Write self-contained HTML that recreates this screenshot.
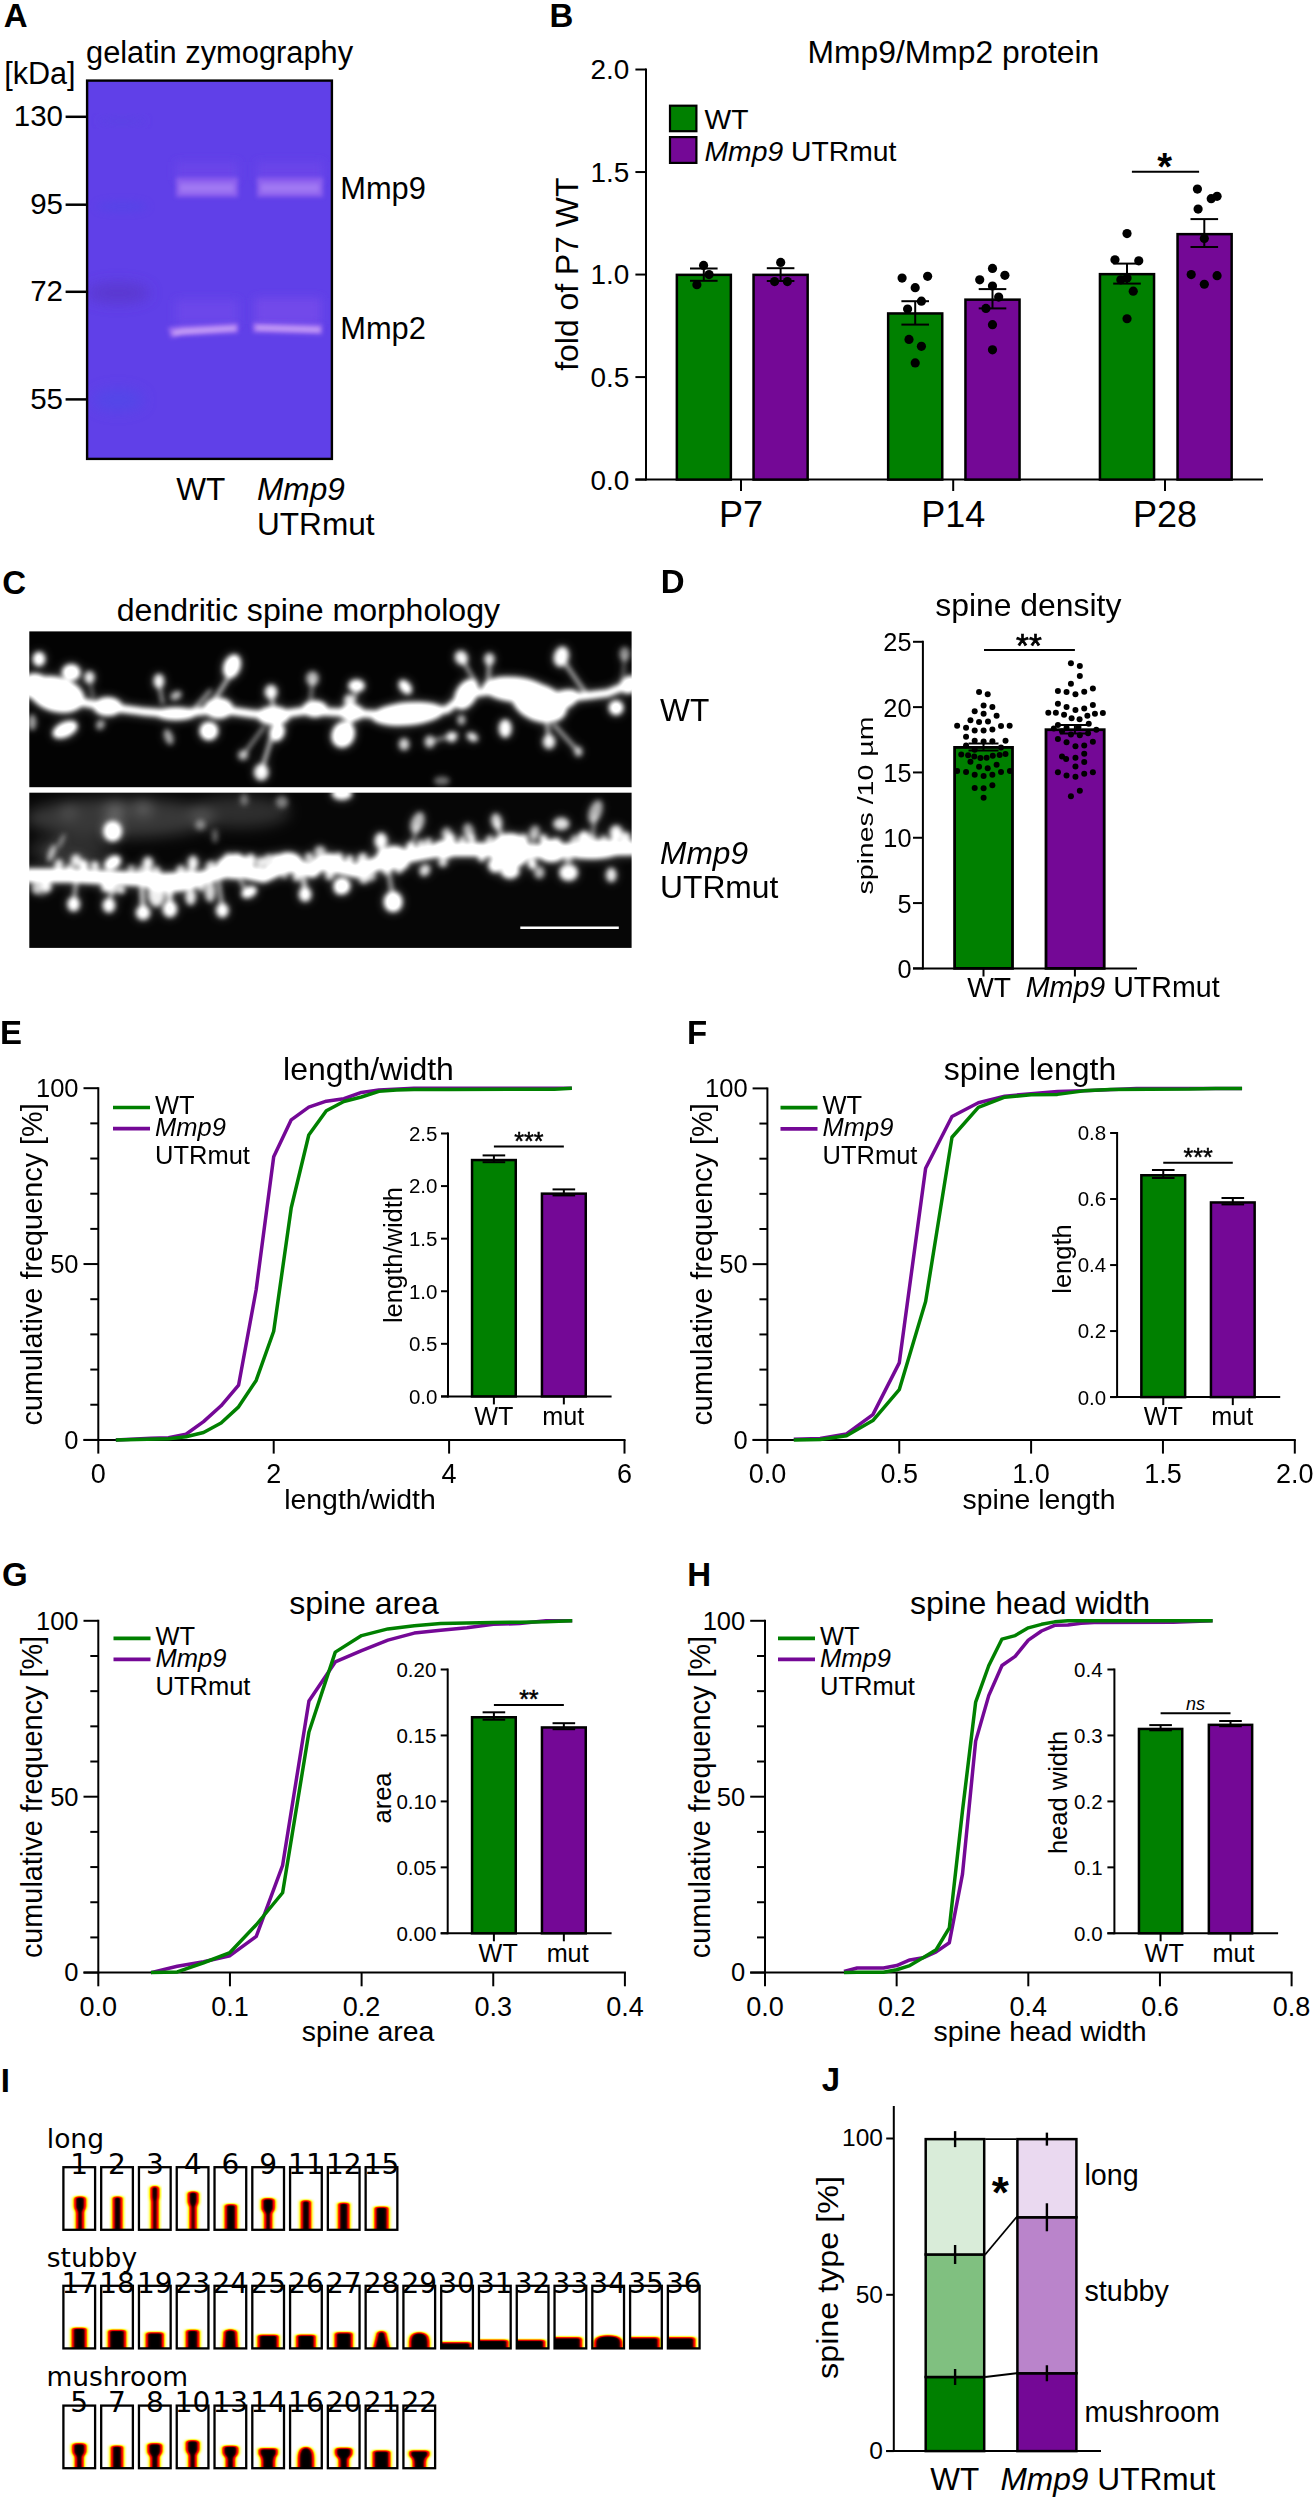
<!DOCTYPE html>
<html><head><meta charset="utf-8"><title>Figure</title>
<style>
html,body{margin:0;padding:0;background:#fff;}
svg{display:block;}
svg text{font-family:"Liberation Sans",sans-serif;fill:#000;}
</style></head><body>
<svg width="1313" height="2500" viewBox="0 0 1313 2500">
<defs>
<filter id="b2" x="-20%" y="-50%" width="140%" height="200%"><feGaussianBlur stdDeviation="2.2"/></filter>
<filter id="b4" x="-30%" y="-80%" width="160%" height="260%"><feGaussianBlur stdDeviation="4.5"/></filter>
<filter id="b7" x="-30%" y="-80%" width="160%" height="260%"><feGaussianBlur stdDeviation="7"/></filter>
<clipPath id="gelclip"><rect x="87" y="80.5" width="245" height="378.5"/></clipPath>
<filter id="mb" x="-5%" y="-20%" width="110%" height="140%" color-interpolation-filters="sRGB"><feGaussianBlur stdDeviation="2.5"/><feComponentTransfer><feFuncA type="linear" slope="1.15" intercept="0"/></feComponentTransfer></filter>
<filter id="mb2" x="-20%" y="-50%" width="140%" height="200%"><feGaussianBlur stdDeviation="7"/></filter>
<filter id="mbw" x="-5%" y="-30%" width="110%" height="160%"><feGaussianBlur stdDeviation="5.5"/></filter>
<clipPath id="c1"><rect x="29.3" y="631.4" width="602.3" height="155.8"/></clipPath>
<clipPath id="c2"><rect x="29.3" y="792.7" width="602.3" height="155.2"/></clipPath>
<filter id="hot" x="-40%" y="-40%" width="180%" height="180%" color-interpolation-filters="sRGB"><feGaussianBlur in="SourceAlpha" stdDeviation="2.3 0.9"/><feColorMatrix type="matrix" values="0 0 0 1 0  0 0 0 1 0  0 0 0 1 0  0 0 0 0 1"/><feComponentTransfer><feFuncR type="table" tableValues="1 1 1 1 1 0.95 0.55 0.15 0"/><feFuncG type="table" tableValues="1 1 0.95 0.45 0.1 0 0 0 0"/><feFuncB type="table" tableValues="1 0.55 0.05 0 0 0 0 0 0"/></feComponentTransfer></filter>
<clipPath id="sc1"><rect x="63.4" y="2167.2" width="31.7" height="62.6"/></clipPath>
<clipPath id="sc2"><rect x="101.18" y="2167.2" width="31.7" height="62.6"/></clipPath>
<clipPath id="sc3"><rect x="138.96" y="2167.2" width="31.7" height="62.6"/></clipPath>
<clipPath id="sc4"><rect x="176.74" y="2167.2" width="31.7" height="62.6"/></clipPath>
<clipPath id="sc6"><rect x="214.52" y="2167.2" width="31.7" height="62.6"/></clipPath>
<clipPath id="sc9"><rect x="252.3" y="2167.2" width="31.7" height="62.6"/></clipPath>
<clipPath id="sc11"><rect x="290.08" y="2167.2" width="31.7" height="62.6"/></clipPath>
<clipPath id="sc12"><rect x="327.86" y="2167.2" width="31.7" height="62.6"/></clipPath>
<clipPath id="sc15"><rect x="365.64" y="2167.2" width="31.7" height="62.6"/></clipPath>
<clipPath id="sc17"><rect x="63.4" y="2285.8" width="31.7" height="62.6"/></clipPath>
<clipPath id="sc18"><rect x="101.18" y="2285.8" width="31.7" height="62.6"/></clipPath>
<clipPath id="sc19"><rect x="138.96" y="2285.8" width="31.7" height="62.6"/></clipPath>
<clipPath id="sc23"><rect x="176.74" y="2285.8" width="31.7" height="62.6"/></clipPath>
<clipPath id="sc24"><rect x="214.52" y="2285.8" width="31.7" height="62.6"/></clipPath>
<clipPath id="sc25"><rect x="252.3" y="2285.8" width="31.7" height="62.6"/></clipPath>
<clipPath id="sc26"><rect x="290.08" y="2285.8" width="31.7" height="62.6"/></clipPath>
<clipPath id="sc27"><rect x="327.86" y="2285.8" width="31.7" height="62.6"/></clipPath>
<clipPath id="sc28"><rect x="365.64" y="2285.8" width="31.7" height="62.6"/></clipPath>
<clipPath id="sc29"><rect x="403.42" y="2285.8" width="31.7" height="62.6"/></clipPath>
<clipPath id="sc30"><rect x="441.2" y="2285.8" width="31.7" height="62.6"/></clipPath>
<clipPath id="sc31"><rect x="478.98" y="2285.8" width="31.7" height="62.6"/></clipPath>
<clipPath id="sc32"><rect x="516.76" y="2285.8" width="31.7" height="62.6"/></clipPath>
<clipPath id="sc33"><rect x="554.54" y="2285.8" width="31.7" height="62.6"/></clipPath>
<clipPath id="sc34"><rect x="592.32" y="2285.8" width="31.7" height="62.6"/></clipPath>
<clipPath id="sc35"><rect x="630.1" y="2285.8" width="31.7" height="62.6"/></clipPath>
<clipPath id="sc36"><rect x="667.88" y="2285.8" width="31.7" height="62.6"/></clipPath>
<clipPath id="sc5"><rect x="63.4" y="2405.6" width="31.7" height="62.6"/></clipPath>
<clipPath id="sc7"><rect x="101.18" y="2405.6" width="31.7" height="62.6"/></clipPath>
<clipPath id="sc8"><rect x="138.96" y="2405.6" width="31.7" height="62.6"/></clipPath>
<clipPath id="sc10"><rect x="176.74" y="2405.6" width="31.7" height="62.6"/></clipPath>
<clipPath id="sc13"><rect x="214.52" y="2405.6" width="31.7" height="62.6"/></clipPath>
<clipPath id="sc14"><rect x="252.3" y="2405.6" width="31.7" height="62.6"/></clipPath>
<clipPath id="sc16"><rect x="290.08" y="2405.6" width="31.7" height="62.6"/></clipPath>
<clipPath id="sc20"><rect x="327.86" y="2405.6" width="31.7" height="62.6"/></clipPath>
<clipPath id="sc21"><rect x="365.64" y="2405.6" width="31.7" height="62.6"/></clipPath>
<clipPath id="sc22"><rect x="403.42" y="2405.6" width="31.7" height="62.6"/></clipPath>
</defs>
<rect x="0" y="0" width="1313" height="2500" fill="#fff"/>
<text x="3.8" y="26.5" font-size="33" font-weight="bold">A</text>
<text x="86" y="62.6" font-size="30.8">gelatin zymography</text>
<text x="4.2" y="83.8" font-size="30.6">[kDa]</text>
<rect x="86.9" y="80.4" width="245.2" height="378.7" fill="#6040e8"/>
<g clip-path="url(#gelclip)">
<ellipse cx="122" cy="206.5" rx="26" ry="5" fill="#4a48e6" opacity="0.45" filter="url(#b4)"/>
<ellipse cx="118" cy="293" rx="32" ry="10" fill="#5a38cc" opacity="0.9" filter="url(#b7)"/>
<ellipse cx="118" cy="400" rx="26" ry="11" fill="#4c4ce8" opacity="0.6" filter="url(#b7)"/>
<ellipse cx="122" cy="121" rx="24" ry="3" fill="#5a42e4" filter="url(#b4)"/>
<rect x="176" y="162" width="62" height="18" fill="#6a45e9" filter="url(#b4)"/>
<rect x="257" y="162" width="66" height="18" fill="#6a45e9" filter="url(#b4)"/>
<rect x="176" y="300" width="62" height="24" fill="#6c46ea" filter="url(#b4)"/>
<rect x="255" y="298" width="66" height="26" fill="#7248ea" filter="url(#b4)"/>
<rect x="176" y="177.5" width="62" height="19.5" fill="#8c5eee" filter="url(#b2)"/>
<rect x="180" y="183.5" width="54" height="9" fill="#a078f3" filter="url(#b2)"/>
<rect x="257" y="177.5" width="66" height="19.5" fill="#8c5eee" filter="url(#b2)"/>
<rect x="261" y="183.5" width="58" height="9" fill="#a078f3" filter="url(#b2)"/>
<g filter="url(#b2)"><path d="M168 327.5 L180 326 L238 323 L238 333 L180 336 L171 338 Z" fill="#9868f0"/></g>
<g filter="url(#b2)"><path d="M172 331.5 L182 329.5 L236 326.5 L236 330 L182 333.5 L174 335 Z" fill="#d0acf8"/></g>
<g filter="url(#b2)"><path d="M253 322.5 L322 324.5 L322 334.5 L253 332.5 Z" fill="#9868f0"/></g>
<g filter="url(#b2)"><path d="M256 326 L320 328 L320 331.5 L256 329.5 Z" fill="#d0acf8"/></g>
</g>
<rect x="87.1" y="80.6" width="244.8" height="378.3" fill="none" stroke="#000" stroke-width="2.4"/>
<text x="63" y="126.4" font-size="29.5" text-anchor="end">130</text>
<line x1="65.6" y1="116.8" x2="86.4" y2="116.8" stroke="#000" stroke-width="2.5"/>
<text x="63" y="214.3" font-size="29.5" text-anchor="end">95</text>
<line x1="65.6" y1="204.7" x2="86.4" y2="204.7" stroke="#000" stroke-width="2.5"/>
<text x="63" y="301.4" font-size="29.5" text-anchor="end">72</text>
<line x1="65.6" y1="291.8" x2="86.4" y2="291.8" stroke="#000" stroke-width="2.5"/>
<text x="63" y="409" font-size="29.5" text-anchor="end">55</text>
<line x1="65.6" y1="399.4" x2="86.4" y2="399.4" stroke="#000" stroke-width="2.5"/>
<text x="340.3" y="199.3" font-size="30.8">Mmp9</text>
<text x="340.3" y="338.6" font-size="30.8">Mmp2</text>
<text x="176.3" y="499.8" font-size="31.6">WT</text>
<text x="257" y="499.8" font-size="31.6" font-style="italic">Mmp9</text>
<text x="257" y="535" font-size="31.6">UTRmut</text>
<text x="549.4" y="26.8" font-size="33" font-weight="bold">B</text>
<text x="953.4" y="62.6" font-size="31.8" text-anchor="middle">Mmp9/Mmp2 protein</text>
<line x1="646" y1="68.5" x2="646" y2="480.6" stroke="#000" stroke-width="2"/>
<line x1="635.4" y1="479.6" x2="1263" y2="479.6" stroke="#000" stroke-width="2"/>
<line x1="635.4" y1="479.6" x2="646" y2="479.6" stroke="#000" stroke-width="2"/>
<text x="629.3" y="489.5" font-size="27.9" text-anchor="end">0.0</text>
<line x1="635.4" y1="377.08" x2="646" y2="377.08" stroke="#000" stroke-width="2"/>
<text x="629.3" y="386.98" font-size="27.9" text-anchor="end">0.5</text>
<line x1="635.4" y1="274.56" x2="646" y2="274.56" stroke="#000" stroke-width="2"/>
<text x="629.3" y="284.46" font-size="27.9" text-anchor="end">1.0</text>
<line x1="635.4" y1="172.04" x2="646" y2="172.04" stroke="#000" stroke-width="2"/>
<text x="629.3" y="181.94" font-size="27.9" text-anchor="end">1.5</text>
<line x1="635.4" y1="69.52" x2="646" y2="69.52" stroke="#000" stroke-width="2"/>
<text x="629.3" y="79.42" font-size="27.9" text-anchor="end">2.0</text>
<line x1="741" y1="479.6" x2="741" y2="491" stroke="#000" stroke-width="2"/>
<text x="741" y="526.8" font-size="36" text-anchor="middle">P7</text>
<line x1="953.2" y1="479.6" x2="953.2" y2="491" stroke="#000" stroke-width="2"/>
<text x="953.2" y="526.8" font-size="36" text-anchor="middle">P14</text>
<line x1="1165" y1="479.6" x2="1165" y2="491" stroke="#000" stroke-width="2"/>
<text x="1165" y="526.8" font-size="36" text-anchor="middle">P28</text>
<text x="578.1" y="274.2" font-size="31.9" text-anchor="middle" transform="rotate(-90 578.1 274.2)">fold of P7 WT</text>
<rect x="670" y="105.7" width="26.4" height="25.5" fill="#008000" stroke="#000" stroke-width="2.2"/>
<rect x="670" y="137.1" width="26.4" height="25.8" fill="#740896" stroke="#000" stroke-width="2.2"/>
<text x="704.5" y="128.6" font-size="28.3">WT</text>
<text x="704.5" y="161.3" font-size="28.3"><tspan font-style="italic">Mmp9</tspan> UTRmut</text>
<rect x="676.85" y="274.85" width="54" height="204.75" fill="#008000" stroke="#000" stroke-width="2.5"/>
<rect x="753.55" y="274.85" width="54.1" height="204.75" fill="#740896" stroke="#000" stroke-width="2.5"/>
<rect x="888.15" y="313.45" width="54.1" height="166.15" fill="#008000" stroke="#000" stroke-width="2.5"/>
<rect x="965.45" y="299.65" width="54.1" height="179.95" fill="#740896" stroke="#000" stroke-width="2.5"/>
<rect x="1099.95" y="274.15" width="54.1" height="205.45" fill="#008000" stroke="#000" stroke-width="2.5"/>
<rect x="1177.55" y="234.15" width="54.1" height="245.45" fill="#740896" stroke="#000" stroke-width="2.5"/>
<line x1="703.8" y1="268.5" x2="703.8" y2="280.8" stroke="#000" stroke-width="2"/>
<line x1="690" y1="268.5" x2="717.6" y2="268.5" stroke="#000" stroke-width="2"/>
<line x1="690" y1="280.8" x2="717.6" y2="280.8" stroke="#000" stroke-width="2"/>
<line x1="780.6" y1="268.2" x2="780.6" y2="281" stroke="#000" stroke-width="2"/>
<line x1="766.8" y1="268.2" x2="794.4" y2="268.2" stroke="#000" stroke-width="2"/>
<line x1="766.8" y1="281" x2="794.4" y2="281" stroke="#000" stroke-width="2"/>
<line x1="915.2" y1="301.2" x2="915.2" y2="324.6" stroke="#000" stroke-width="2"/>
<line x1="901.4" y1="301.2" x2="929" y2="301.2" stroke="#000" stroke-width="2"/>
<line x1="901.4" y1="324.6" x2="929" y2="324.6" stroke="#000" stroke-width="2"/>
<line x1="992.5" y1="289.1" x2="992.5" y2="308.4" stroke="#000" stroke-width="2"/>
<line x1="978.7" y1="289.1" x2="1006.3" y2="289.1" stroke="#000" stroke-width="2"/>
<line x1="978.7" y1="308.4" x2="1006.3" y2="308.4" stroke="#000" stroke-width="2"/>
<line x1="1127" y1="263.6" x2="1127" y2="283.6" stroke="#000" stroke-width="2"/>
<line x1="1113.2" y1="263.6" x2="1140.8" y2="263.6" stroke="#000" stroke-width="2"/>
<line x1="1113.2" y1="283.6" x2="1140.8" y2="283.6" stroke="#000" stroke-width="2"/>
<line x1="1204.3" y1="219.1" x2="1204.3" y2="247" stroke="#000" stroke-width="2"/>
<line x1="1190.5" y1="219.1" x2="1218.1" y2="219.1" stroke="#000" stroke-width="2"/>
<line x1="1190.5" y1="247" x2="1218.1" y2="247" stroke="#000" stroke-width="2"/>
<circle cx="703.59" cy="265.44" r="4.6" fill="#000"/>
<circle cx="709.08" cy="274.58" r="4.6" fill="#000"/>
<circle cx="696.89" cy="284.63" r="4.6" fill="#000"/>
<circle cx="780.67" cy="262.39" r="4.6" fill="#000"/>
<circle cx="774.58" cy="281.58" r="4.6" fill="#000"/>
<circle cx="787.37" cy="281.58" r="4.6" fill="#000"/>
<circle cx="902.09" cy="278.05" r="4.6" fill="#000"/>
<circle cx="927.62" cy="276.33" r="4.6" fill="#000"/>
<circle cx="915.2" cy="287.71" r="4.6" fill="#000"/>
<circle cx="921.41" cy="301.17" r="4.6" fill="#000"/>
<circle cx="907.61" cy="309.1" r="4.6" fill="#000"/>
<circle cx="908.99" cy="339.47" r="4.6" fill="#000"/>
<circle cx="921.41" cy="346.37" r="4.6" fill="#000"/>
<circle cx="915.2" cy="362.93" r="4.6" fill="#000"/>
<circle cx="992.48" cy="268.39" r="4.6" fill="#000"/>
<circle cx="979.72" cy="279.78" r="4.6" fill="#000"/>
<circle cx="1004.9" cy="275.29" r="4.6" fill="#000"/>
<circle cx="992.48" cy="285.99" r="4.6" fill="#000"/>
<circle cx="998.69" cy="297.03" r="4.6" fill="#000"/>
<circle cx="985.93" cy="308.41" r="4.6" fill="#000"/>
<circle cx="992.48" cy="324.63" r="4.6" fill="#000"/>
<circle cx="992.48" cy="349.82" r="4.6" fill="#000"/>
<circle cx="1127.03" cy="233.55" r="4.6" fill="#000"/>
<circle cx="1114.96" cy="259.77" r="4.6" fill="#000"/>
<circle cx="1138.76" cy="260.8" r="4.6" fill="#000"/>
<circle cx="1127.03" cy="278.05" r="4.6" fill="#000"/>
<circle cx="1120.82" cy="279.78" r="4.6" fill="#000"/>
<circle cx="1133.24" cy="291.16" r="4.6" fill="#000"/>
<circle cx="1127.03" cy="318.76" r="4.6" fill="#000"/>
<circle cx="1197.42" cy="189.04" r="4.6" fill="#000"/>
<circle cx="1217.08" cy="196.29" r="4.6" fill="#000"/>
<circle cx="1211.22" cy="198.7" r="4.6" fill="#000"/>
<circle cx="1198.11" cy="209.05" r="4.6" fill="#000"/>
<circle cx="1204.32" cy="238.38" r="4.6" fill="#000"/>
<circle cx="1191.21" cy="274.6" r="4.6" fill="#000"/>
<circle cx="1217.08" cy="275.64" r="4.6" fill="#000"/>
<circle cx="1204.32" cy="284.26" r="4.6" fill="#000"/>
<line x1="1131.9" y1="171.8" x2="1199.1" y2="171.8" stroke="#000" stroke-width="2"/>
<text x="1164.6" y="179.5" font-size="38" text-anchor="middle" font-weight="bold">*</text>
<text x="2.2" y="593.5" font-size="33" font-weight="bold">C</text>
<text x="308.4" y="620.5" font-size="32.1" text-anchor="middle">dendritic spine morphology</text>
<rect x="29.3" y="631.4" width="602.3" height="155.8" fill="#030303"/>
<rect x="29.3" y="792.7" width="602.3" height="155.2" fill="#060606"/>
<g clip-path="url(#c1)"><defs><g id="den1" fill="#fff">
<polyline points="27.31,693.12 59,697.99 107.74,707.01 141.86,711.4 175.98,714.32 205.23,710.67 217.42,708.96 251.54,713.83 273.47,715.54 312.47,709.69 320,711.4 351.68,713.1 393.12,715.54 424.8,710.67 446.74,709.69 466.23,694.34 490.61,690.68 522.29,689.46 539.35,701.65 563.72,697.99 588.1,695.55 607.59,693.12 634.4,682.15" fill="none" stroke="#fff" stroke-width="7" stroke-linecap="round" stroke-linejoin="round"/>
<ellipse cx="56.56" cy="694.34" rx="28" ry="17" transform="rotate(15 56.56 694.34)"/>
<ellipse cx="34.62" cy="685.81" rx="14" ry="12"/>
<ellipse cx="107.74" cy="706.52" rx="14" ry="9"/>
<ellipse cx="175.98" cy="713.83" rx="20" ry="6"/>
<ellipse cx="218.64" cy="708.23" rx="14" ry="10"/>
<ellipse cx="273.47" cy="715.54" rx="16" ry="9"/>
<ellipse cx="314.91" cy="708.96" rx="12" ry="8"/>
<ellipse cx="351.68" cy="712.62" rx="12" ry="8"/>
<ellipse cx="407.74" cy="713.83" rx="36" ry="11" transform="rotate(-5 407.74 713.83)"/>
<ellipse cx="466.23" cy="694.34" rx="10" ry="16" transform="rotate(30 466.23 694.34)"/>
<ellipse cx="514.98" cy="689.46" rx="32" ry="12" transform="rotate(5 514.98 689.46)"/>
<ellipse cx="539.35" cy="702.87" rx="28" ry="18" transform="rotate(20 539.35 702.87)"/>
<ellipse cx="561.29" cy="700.43" rx="18" ry="9" transform="rotate(-20 561.29 700.43)"/>
<ellipse cx="629.53" cy="684.59" rx="10" ry="8" transform="rotate(-30 629.53 684.59)"/>
<ellipse cx="39.01" cy="659" rx="6" ry="7" opacity="0.95"/>
<ellipse cx="71.18" cy="672.4" rx="9" ry="8"/>
<ellipse cx="89.46" cy="677.28" rx="5" ry="6" opacity="0.8"/>
<ellipse cx="65.09" cy="729.68" rx="13" ry="7" transform="rotate(-25 65.09 729.68)"/>
<ellipse cx="100.43" cy="724.8" rx="4" ry="5" transform="rotate(30 100.43 724.8)" opacity="0.55"/>
<ellipse cx="158.92" cy="680.93" rx="5" ry="7" opacity="0.85"/>
<ellipse cx="175.98" cy="695.55" rx="6" ry="4" transform="rotate(-30 175.98 695.55)" opacity="0.6"/>
<ellipse cx="168.67" cy="736.99" rx="4" ry="8" transform="rotate(-20 168.67 736.99)" opacity="0.55"/>
<ellipse cx="232.04" cy="666.31" rx="8" ry="12" transform="rotate(20 232.04 666.31)"/>
<ellipse cx="208.89" cy="730.89" rx="9" ry="9"/>
<ellipse cx="271.04" cy="691.9" rx="6" ry="7" opacity="0.85"/>
<ellipse cx="312.47" cy="678.49" rx="6" ry="7" opacity="0.6"/>
<ellipse cx="243.01" cy="755.27" rx="5" ry="5" opacity="0.55"/>
<ellipse cx="261.29" cy="772.33" rx="7" ry="8" opacity="0.85"/>
<ellipse cx="277.13" cy="732.11" rx="7" ry="9" transform="rotate(20 277.13 732.11)"/>
<ellipse cx="32.19" cy="722.36" rx="4" ry="8" opacity="0.5"/>
<line x1="158.92" y1="683.37" x2="162.58" y2="702.87" stroke="#fff" stroke-width="2.5" stroke-linecap="round" opacity="0.7"/>
<line x1="229.6" y1="676.06" x2="212.54" y2="702.87" stroke="#fff" stroke-width="3" stroke-linecap="round" opacity="0.8"/>
<line x1="271.04" y1="693.12" x2="273.47" y2="710.18" stroke="#fff" stroke-width="3" stroke-linecap="round" opacity="0.8"/>
<line x1="312.47" y1="680.93" x2="310.03" y2="705.3" stroke="#fff" stroke-width="2.5" stroke-linecap="round" opacity="0.55"/>
<line x1="243.01" y1="755.27" x2="263.72" y2="727.24" stroke="#fff" stroke-width="2.5" stroke-linecap="round" opacity="0.6"/>
<line x1="261.29" y1="771.11" x2="274.69" y2="727.24" stroke="#fff" stroke-width="3" stroke-linecap="round" opacity="0.8"/>
<line x1="89.46" y1="678.49" x2="93.12" y2="697.99" stroke="#fff" stroke-width="2" stroke-linecap="round" opacity="0.5"/>
<line x1="195.48" y1="707.74" x2="210.1" y2="690.68" stroke="#fff" stroke-width="3" stroke-linecap="round" opacity="0.6"/>
<ellipse cx="356.56" cy="685.81" rx="8" ry="6" opacity="0.95"/>
<ellipse cx="405.3" cy="687.02" rx="5" ry="8" transform="rotate(-40 405.3 687.02)" opacity="0.95"/>
<ellipse cx="343.15" cy="734.55" rx="11" ry="13" transform="rotate(25 343.15 734.55)"/>
<ellipse cx="404.08" cy="744.3" rx="5" ry="6" opacity="0.7"/>
<ellipse cx="429.68" cy="741.86" rx="5" ry="6" opacity="0.65"/>
<ellipse cx="451.61" cy="736.99" rx="5" ry="5" opacity="0.8"/>
<ellipse cx="472.33" cy="736.99" rx="6" ry="4" transform="rotate(30 472.33 736.99)" opacity="0.8"/>
<ellipse cx="461.36" cy="719.93" rx="4" ry="5" opacity="0.6"/>
<ellipse cx="505.23" cy="728.46" rx="6" ry="9" opacity="0.9"/>
<ellipse cx="461.36" cy="657.78" rx="6" ry="7" transform="rotate(-30 461.36 657.78)" opacity="0.85"/>
<ellipse cx="489.39" cy="659" rx="5" ry="6" opacity="0.75"/>
<ellipse cx="561.29" cy="656.56" rx="7" ry="10" transform="rotate(15 561.29 656.56)" opacity="0.9"/>
<ellipse cx="624.66" cy="654.12" rx="5" ry="7" opacity="0.45"/>
<ellipse cx="616.12" cy="707.74" rx="7" ry="7"/>
<ellipse cx="549.1" cy="741.86" rx="6" ry="7" opacity="0.8"/>
<ellipse cx="578.35" cy="751.61" rx="4" ry="5" opacity="0.55"/>
<ellipse cx="441.86" cy="780.86" rx="8" ry="4" opacity="0.35"/>
<ellipse cx="349.25" cy="700.43" rx="5" ry="6" opacity="0.8"/>
<line x1="462.58" y1="660.21" x2="475.98" y2="683.37" stroke="#fff" stroke-width="2.5" stroke-linecap="round" opacity="0.7"/>
<line x1="489.39" y1="661.43" x2="488.17" y2="685.81" stroke="#fff" stroke-width="3" stroke-linecap="round" opacity="0.7"/>
<line x1="563.72" y1="661.43" x2="585.66" y2="693.12" stroke="#fff" stroke-width="3" stroke-linecap="round" opacity="0.7"/>
<line x1="553.98" y1="724.8" x2="579.57" y2="752.83" stroke="#fff" stroke-width="3" stroke-linecap="round" opacity="0.65"/>
<line x1="549.1" y1="741.86" x2="546.66" y2="717.49" stroke="#fff" stroke-width="3" stroke-linecap="round" opacity="0.7"/>
<line x1="356.56" y1="688.24" x2="351.68" y2="710.18" stroke="#fff" stroke-width="3" stroke-linecap="round" opacity="0.6"/>
<line x1="344.37" y1="729.68" x2="354.12" y2="715.05" stroke="#fff" stroke-width="5" stroke-linecap="round" opacity="0.9"/>
<line x1="429.68" y1="741.86" x2="456.49" y2="734.55" stroke="#fff" stroke-width="3" stroke-linecap="round" opacity="0.5"/>
<line x1="624.66" y1="656.56" x2="622.22" y2="688.24" stroke="#fff" stroke-width="2.5" stroke-linecap="round" opacity="0.4"/>
</g></defs><use href="#den1" filter="url(#mbw)" opacity="0.5"/><use href="#den1" filter="url(#mb)"/></g>
<g clip-path="url(#c2)">
<g filter="url(#mb2)" fill="#fff">
<ellipse cx="120" cy="818" rx="95" ry="20" opacity="0.2"/>
<ellipse cx="240" cy="812" rx="50" ry="16" opacity="0.16"/>
<ellipse cx="70" cy="850" rx="40" ry="14" opacity="0.16"/>
<ellipse cx="115.05" cy="811.68" rx="9" ry="9" opacity="0.3"/>
<ellipse cx="143.08" cy="808.03" rx="8" ry="7" opacity="0.3"/>
<ellipse cx="68.74" cy="811.68" rx="7" ry="7" opacity="0.18"/>
</g>
<defs><g id="den2" fill="#fff">
<polyline points="27.31,875.54 68.74,875.54 117.49,877.98 166.23,880.41 202.79,877.98 232.04,868.96 263.72,875.54 288.1,864.08 312.47,870.67 320,862.87 356.56,870.67 393.12,858.48 441.86,849.46 478.42,849.46 510.1,851.17 551.54,851.17 588.1,848.73 634.4,848.24" fill="none" stroke="#fff" stroke-width="13" stroke-linecap="round" stroke-linejoin="round"/>
<ellipse cx="37.12" cy="887.73" rx="5.17" ry="6.34" transform="rotate(17.75 37.12 887.73)" opacity="0.63"/>
<ellipse cx="46.2" cy="886.32" rx="5.02" ry="5.79" transform="rotate(-20.47 46.2 886.32)" opacity="0.87"/>
<ellipse cx="58.8" cy="864.97" rx="4.11" ry="5.63" transform="rotate(7.5 58.8 864.97)" opacity="0.8"/>
<ellipse cx="69.94" cy="868.29" rx="3.64" ry="3.69" transform="rotate(-1.8 69.94 868.29)" opacity="0.73"/>
<ellipse cx="83.68" cy="865.41" rx="4.35" ry="5.34" transform="rotate(-11.09 83.68 865.41)" opacity="0.95"/>
<ellipse cx="94.92" cy="865.66" rx="3.93" ry="4.49" transform="rotate(-21.49 94.92 865.66)" opacity="0.86"/>
<ellipse cx="106.79" cy="886.69" rx="5.4" ry="5.4" transform="rotate(-14.51 106.79 886.69)" opacity="0.91"/>
<ellipse cx="114.02" cy="887.38" rx="4.5" ry="6.02" transform="rotate(-8.16 114.02 887.38)" opacity="0.67"/>
<ellipse cx="121.3" cy="889.77" rx="3.47" ry="3.65" transform="rotate(-22.01 121.3 889.77)" opacity="0.87"/>
<ellipse cx="131.31" cy="868.94" rx="3.64" ry="3.88" transform="rotate(7.19 131.31 868.94)" opacity="0.6"/>
<ellipse cx="141.81" cy="872.1" rx="5.19" ry="6.73" transform="rotate(24.9 141.81 872.1)" opacity="0.56"/>
<ellipse cx="147.8" cy="872.25" rx="3.54" ry="3.55" transform="rotate(5.52 147.8 872.25)" opacity="0.88"/>
<ellipse cx="156.32" cy="872.43" rx="4.54" ry="5.91" transform="rotate(-6.41 156.32 872.43)" opacity="0.73"/>
<ellipse cx="169.65" cy="892.15" rx="3.51" ry="4.61" transform="rotate(-9.46 169.65 892.15)" opacity="0.64"/>
<ellipse cx="180.98" cy="871.49" rx="4.65" ry="6.24" transform="rotate(-5.59 180.98 871.49)" opacity="0.74"/>
<ellipse cx="190.09" cy="871.32" rx="3.29" ry="3.68" transform="rotate(10.23 190.09 871.32)" opacity="0.65"/>
<ellipse cx="201.06" cy="886.91" rx="3.6" ry="3.73" transform="rotate(-13.58 201.06 886.91)" opacity="0.77"/>
<ellipse cx="211.11" cy="866.37" rx="5.31" ry="5.35" transform="rotate(-11.54 211.11 866.37)" opacity="0.73"/>
<ellipse cx="221.55" cy="864.09" rx="4.42" ry="4.63" transform="rotate(-18.08 221.55 864.09)" opacity="0.73"/>
<ellipse cx="228.54" cy="859.47" rx="5.32" ry="6.28" transform="rotate(-9.41 228.54 859.47)" opacity="0.56"/>
<ellipse cx="238.51" cy="860.56" rx="4.88" ry="7.32" transform="rotate(-21.24 238.51 860.56)" opacity="0.77"/>
<ellipse cx="250.06" cy="861.07" rx="5.3" ry="7.12" transform="rotate(20.04 250.06 861.07)" opacity="0.9"/>
<ellipse cx="260.66" cy="862.62" rx="4.52" ry="5.38" transform="rotate(4.13 260.66 862.62)" opacity="0.79"/>
<ellipse cx="268.55" cy="860.74" rx="5.22" ry="6.24" transform="rotate(11.75 268.55 860.74)" opacity="0.78"/>
<ellipse cx="276.52" cy="859.06" rx="4.38" ry="4.58" transform="rotate(-23.89 276.52 859.06)" opacity="0.93"/>
<ellipse cx="284.16" cy="874.09" rx="3.23" ry="4.32" transform="rotate(-14.87 284.16 874.09)" opacity="0.62"/>
<ellipse cx="297.01" cy="876.58" rx="3.76" ry="4.23" transform="rotate(6.71 297.01 876.58)" opacity="0.87"/>
<ellipse cx="309.25" cy="857.43" rx="4.08" ry="4.73" transform="rotate(-18.19 309.25 857.43)" opacity="0.75"/>
<ellipse cx="320.05" cy="851.8" rx="5.39" ry="5.84" transform="rotate(-2.47 320.05 851.8)" opacity="0.66"/>
<ellipse cx="329.92" cy="874.13" rx="4.4" ry="5.97" transform="rotate(17.1 329.92 874.13)" opacity="0.8"/>
<ellipse cx="338.86" cy="858.07" rx="4.6" ry="5.24" transform="rotate(-7.29 338.86 858.07)" opacity="0.81"/>
<ellipse cx="349.61" cy="859.52" rx="3.64" ry="4.12" transform="rotate(13.96 349.61 859.52)" opacity="0.87"/>
<ellipse cx="362.06" cy="859.36" rx="4.65" ry="6.53" transform="rotate(22.92 362.06 859.36)" opacity="0.82"/>
<ellipse cx="370.65" cy="874.84" rx="4.84" ry="6.14" transform="rotate(-23.19 370.65 874.84)" opacity="0.64"/>
<ellipse cx="382.93" cy="853.06" rx="5.02" ry="5.24" transform="rotate(21.63 382.93 853.06)" opacity="0.84"/>
<ellipse cx="387.11" cy="868" rx="5.24" ry="6.68" transform="rotate(7.63 387.11 868)" opacity="0.75"/>
<ellipse cx="399.82" cy="866.8" rx="4.7" ry="6.39" transform="rotate(15.92 399.82 866.8)" opacity="0.81"/>
<ellipse cx="410.66" cy="846.48" rx="4.1" ry="4.73" transform="rotate(23.84 410.66 846.48)" opacity="0.92"/>
<ellipse cx="420.64" cy="844.25" rx="3.39" ry="4.32" transform="rotate(13.41 420.64 844.25)" opacity="0.74"/>
<ellipse cx="428.18" cy="842.44" rx="3.28" ry="4.41" transform="rotate(20.8 428.18 842.44)" opacity="0.74"/>
<ellipse cx="442.84" cy="862.29" rx="4.33" ry="4.52" transform="rotate(-13.93 442.84 862.29)" opacity="0.76"/>
<ellipse cx="450.03" cy="839.32" rx="5.14" ry="5.94" transform="rotate(-5.94 450.03 839.32)" opacity="0.89"/>
<ellipse cx="462.37" cy="840.63" rx="3.52" ry="4.01" transform="rotate(-0.12 462.37 840.63)" opacity="0.71"/>
<ellipse cx="471.76" cy="838.83" rx="3.26" ry="4.11" transform="rotate(-4.97 471.76 838.83)" opacity="0.87"/>
<ellipse cx="481.98" cy="857.12" rx="3.58" ry="4.41" transform="rotate(21.04 481.98 857.12)" opacity="0.87"/>
<ellipse cx="489.41" cy="840.23" rx="3.49" ry="4.92" transform="rotate(20.03 489.41 840.23)" opacity="0.74"/>
<ellipse cx="497.62" cy="841.03" rx="3.27" ry="4.41" transform="rotate(23.86 497.62 841.03)" opacity="0.56"/>
<ellipse cx="505.94" cy="839.85" rx="3.94" ry="5.16" transform="rotate(-19.76 505.94 839.85)" opacity="0.84"/>
<ellipse cx="515.77" cy="862.47" rx="4.81" ry="4.87" transform="rotate(6.65 515.77 862.47)" opacity="0.88"/>
<ellipse cx="523.82" cy="838.98" rx="4.43" ry="4.91" transform="rotate(2.15 523.82 838.98)" opacity="0.78"/>
<ellipse cx="532.03" cy="863.58" rx="3.93" ry="5.74" transform="rotate(-14.09 532.03 863.58)" opacity="0.95"/>
<ellipse cx="543.44" cy="838.83" rx="3.5" ry="4.18" transform="rotate(-3.26 543.44 838.83)" opacity="0.93"/>
<ellipse cx="556.55" cy="842.71" rx="4.64" ry="4.87" transform="rotate(3.5 556.55 842.71)" opacity="0.69"/>
<ellipse cx="568.31" cy="857.81" rx="4.36" ry="5.46" transform="rotate(9.28 568.31 857.81)" opacity="0.63"/>
<ellipse cx="575.15" cy="842.48" rx="4.95" ry="7.19" transform="rotate(-0.94 575.15 842.48)" opacity="0.63"/>
<ellipse cx="584.1" cy="837.07" rx="5.48" ry="5.74" transform="rotate(-21.9 584.1 837.07)" opacity="0.93"/>
<ellipse cx="592.22" cy="839.73" rx="4.27" ry="5.19" transform="rotate(5.05 592.22 839.73)" opacity="0.56"/>
<ellipse cx="604.33" cy="840.48" rx="4.24" ry="5.1" transform="rotate(-15.24 604.33 840.48)" opacity="0.62"/>
<ellipse cx="614.81" cy="839.52" rx="3.4" ry="4.88" transform="rotate(20.44 614.81 839.52)" opacity="0.93"/>
<ellipse cx="625.08" cy="838.33" rx="5.46" ry="6.17" transform="rotate(20.56 625.08 838.33)" opacity="0.85"/>
<ellipse cx="234.48" cy="866.52" rx="16" ry="12"/>
<ellipse cx="288.1" cy="862.87" rx="14" ry="10"/>
<ellipse cx="171.11" cy="882.36" rx="30" ry="9"/>
<ellipse cx="329.75" cy="862.87" rx="12" ry="9"/>
<ellipse cx="390.68" cy="857.99" rx="16" ry="11" transform="rotate(-20 390.68 857.99)"/>
<ellipse cx="444.3" cy="849.46" rx="12" ry="9"/>
<ellipse cx="510.1" cy="850.68" rx="20" ry="17"/>
<ellipse cx="551.54" cy="850.68" rx="14" ry="11"/>
<ellipse cx="595.41" cy="849.46" rx="30" ry="9" transform="rotate(-3 595.41 849.46)"/>
<ellipse cx="112.62" cy="831.18" rx="9" ry="10"/>
<ellipse cx="51.68" cy="853.12" rx="3" ry="9" transform="rotate(20 51.68 853.12)" opacity="0.6"/>
<ellipse cx="76.06" cy="860.43" rx="5" ry="6" opacity="0.8"/>
<ellipse cx="112.62" cy="862.87" rx="9" ry="6" transform="rotate(-35 112.62 862.87)"/>
<ellipse cx="147.96" cy="862.87" rx="5" ry="6" opacity="0.8"/>
<ellipse cx="193.04" cy="862.87" rx="5" ry="7" opacity="0.8"/>
<ellipse cx="73.62" cy="904.3" rx="6" ry="7" opacity="0.9"/>
<ellipse cx="108.96" cy="905.52" rx="6" ry="7" opacity="0.9"/>
<ellipse cx="143.08" cy="912.83" rx="7" ry="7" opacity="0.9"/>
<ellipse cx="169.89" cy="909.17" rx="7" ry="8" opacity="0.9"/>
<ellipse cx="190.61" cy="896.99" rx="5" ry="8" opacity="0.8"/>
<ellipse cx="222.29" cy="910.39" rx="6" ry="7" opacity="0.9"/>
<ellipse cx="249.1" cy="892.11" rx="8" ry="5" transform="rotate(-25 249.1 892.11)" opacity="0.95"/>
<ellipse cx="305.16" cy="894.55" rx="6" ry="7" opacity="0.9"/>
<ellipse cx="340.01" cy="887.24" rx="6" ry="7" opacity="0.9"/>
<ellipse cx="200.36" cy="825.09" rx="5" ry="5" opacity="0.35"/>
<ellipse cx="214.98" cy="836.06" rx="3" ry="7" opacity="0.3"/>
<ellipse cx="244.23" cy="799.5" rx="4" ry="6" opacity="0.3"/>
<ellipse cx="282" cy="801.94" rx="6" ry="6" opacity="0.35"/>
<ellipse cx="41.94" cy="890.89" rx="5" ry="5" opacity="0.25"/>
<ellipse cx="61.43" cy="840.93" rx="2" ry="8" transform="rotate(25 61.43 840.93)" opacity="0.4"/>
<ellipse cx="156.49" cy="894.55" rx="8" ry="12" opacity="0.8"/>
<ellipse cx="210.1" cy="892.11" rx="5" ry="10" opacity="0.7"/>
<line x1="73.62" y1="903.08" x2="76.06" y2="882.36" stroke="#fff" stroke-width="3" stroke-linecap="round" opacity="0.7"/>
<line x1="108.96" y1="904.3" x2="112.62" y2="884.8" stroke="#fff" stroke-width="3" stroke-linecap="round" opacity="0.7"/>
<line x1="143.08" y1="911.61" x2="141.86" y2="884.8" stroke="#fff" stroke-width="4" stroke-linecap="round" opacity="0.8"/>
<line x1="169.89" y1="907.96" x2="168.67" y2="884.8" stroke="#fff" stroke-width="5" stroke-linecap="round" opacity="0.8"/>
<line x1="222.29" y1="909.17" x2="218.64" y2="882.36" stroke="#fff" stroke-width="3" stroke-linecap="round" opacity="0.7"/>
<line x1="305.16" y1="893.33" x2="302.72" y2="872.62" stroke="#fff" stroke-width="4" stroke-linecap="round" opacity="0.8"/>
<line x1="147.96" y1="862.87" x2="149.17" y2="875.05" stroke="#fff" stroke-width="3" stroke-linecap="round" opacity="0.7"/>
<line x1="193.04" y1="862.87" x2="193.04" y2="875.05" stroke="#fff" stroke-width="3" stroke-linecap="round" opacity="0.7"/>
<line x1="246.66" y1="893.33" x2="239.35" y2="877.49" stroke="#fff" stroke-width="3" stroke-linecap="round" opacity="0.6"/>
<ellipse cx="341.94" cy="793.4" rx="10" ry="6" opacity="0.95"/>
<ellipse cx="417.49" cy="822.65" rx="6" ry="11" transform="rotate(20 417.49 822.65)" opacity="0.6"/>
<ellipse cx="380.93" cy="840.93" rx="6" ry="8" opacity="0.9"/>
<ellipse cx="341.94" cy="886.02" rx="8" ry="8"/>
<ellipse cx="363.87" cy="877.49" rx="5" ry="6" opacity="0.8"/>
<ellipse cx="393.12" cy="901.86" rx="9" ry="10"/>
<ellipse cx="424.8" cy="870.18" rx="5" ry="6" transform="rotate(30 424.8 870.18)" opacity="0.75"/>
<ellipse cx="446.74" cy="833.62" rx="5" ry="6" opacity="0.55"/>
<ellipse cx="468.67" cy="831.18" rx="5" ry="8" transform="rotate(-15 468.67 831.18)" opacity="0.55"/>
<ellipse cx="496.7" cy="821.43" rx="5" ry="8" transform="rotate(-15 496.7 821.43)" opacity="0.7"/>
<ellipse cx="534.48" cy="832.4" rx="5" ry="7" transform="rotate(15 534.48 832.4)" opacity="0.55"/>
<ellipse cx="561.29" cy="823.87" rx="8" ry="6" opacity="0.75"/>
<ellipse cx="595.41" cy="811.68" rx="6" ry="12" transform="rotate(20 595.41 811.68)" opacity="0.55"/>
<ellipse cx="616.12" cy="832.4" rx="6" ry="7" opacity="0.85"/>
<ellipse cx="611.25" cy="875.05" rx="5" ry="7" opacity="0.8"/>
<ellipse cx="568.6" cy="872.62" rx="9" ry="8" opacity="0.9"/>
<ellipse cx="539.35" cy="872.62" rx="5" ry="6" opacity="0.6"/>
<ellipse cx="510.1" cy="871.4" rx="9" ry="7" opacity="0.95"/>
<ellipse cx="495.48" cy="865.3" rx="7" ry="7" opacity="0.95"/>
<ellipse cx="402.87" cy="862.87" rx="6" ry="6" opacity="0.9"/>
<line x1="393.12" y1="899.42" x2="388.24" y2="870.18" stroke="#fff" stroke-width="3" stroke-linecap="round" opacity="0.7"/>
<line x1="417.49" y1="826.31" x2="410.18" y2="850.68" stroke="#fff" stroke-width="3" stroke-linecap="round" opacity="0.5"/>
<line x1="496.7" y1="823.87" x2="505.23" y2="845.81" stroke="#fff" stroke-width="4" stroke-linecap="round" opacity="0.7"/>
<line x1="595.41" y1="816.56" x2="590.53" y2="843.37" stroke="#fff" stroke-width="3" stroke-linecap="round" opacity="0.5"/>
<line x1="534.48" y1="833.62" x2="532.04" y2="848.24" stroke="#fff" stroke-width="3" stroke-linecap="round" opacity="0.5"/>
<line x1="468.67" y1="833.62" x2="473.55" y2="848.24" stroke="#fff" stroke-width="3" stroke-linecap="round" opacity="0.5"/>
<line x1="446.74" y1="834.84" x2="446.74" y2="848.24" stroke="#fff" stroke-width="3" stroke-linecap="round" opacity="0.5"/>
<line x1="616.12" y1="833.62" x2="612.47" y2="845.81" stroke="#fff" stroke-width="3" stroke-linecap="round" opacity="0.6"/>
</g></defs><use href="#den2" filter="url(#mbw)" opacity="0.5"/><use href="#den2" filter="url(#mb)"/></g>
<line x1="520.3" y1="927.8" x2="618.8" y2="927.8" stroke="#fff" stroke-width="2.6"/>
<text x="660" y="721.4" font-size="31.7">WT</text>
<text x="660" y="863.7" font-size="31.7" font-style="italic">Mmp9</text>
<text x="660" y="898.2" font-size="31.8">UTRmut</text>
<text x="660.7" y="593" font-size="33" font-weight="bold">D</text>
<text x="1028.3" y="616.2" font-size="31.9" text-anchor="middle">spine density</text>
<line x1="922.9" y1="640.8" x2="922.9" y2="969.4" stroke="#000" stroke-width="2"/>
<line x1="913" y1="968.4" x2="1137" y2="968.4" stroke="#000" stroke-width="2"/>
<line x1="913" y1="968.4" x2="922.9" y2="968.4" stroke="#000" stroke-width="2"/>
<text x="911.5" y="978" font-size="25.3" text-anchor="end">0</text>
<line x1="913" y1="903.08" x2="922.9" y2="903.08" stroke="#000" stroke-width="2"/>
<text x="911.5" y="912.68" font-size="25.3" text-anchor="end">5</text>
<line x1="913" y1="837.76" x2="922.9" y2="837.76" stroke="#000" stroke-width="2"/>
<text x="911.5" y="847.36" font-size="25.3" text-anchor="end">10</text>
<line x1="913" y1="772.44" x2="922.9" y2="772.44" stroke="#000" stroke-width="2"/>
<text x="911.5" y="782.04" font-size="25.3" text-anchor="end">15</text>
<line x1="913" y1="707.12" x2="922.9" y2="707.12" stroke="#000" stroke-width="2"/>
<text x="911.5" y="716.72" font-size="25.3" text-anchor="end">20</text>
<line x1="913" y1="641.8" x2="922.9" y2="641.8" stroke="#000" stroke-width="2"/>
<text x="911.5" y="651.4" font-size="25.3" text-anchor="end">25</text>
<line x1="983.5" y1="968.4" x2="983.5" y2="976.5" stroke="#000" stroke-width="2"/>
<line x1="1074.9" y1="968.4" x2="1074.9" y2="976.5" stroke="#000" stroke-width="2"/>
<text transform="translate(872.5 805.6) rotate(-90) scale(1.267 1)" text-anchor="middle" font-size="22.5">spines /10 µm</text>
<rect x="954.6" y="747.4" width="57.9" height="221" fill="#008000" stroke="#000" stroke-width="2.8"/>
<rect x="1046" y="729.7" width="58.2" height="238.7" fill="#740896" stroke="#000" stroke-width="2.8"/>
<line x1="983.5" y1="743.5" x2="983.5" y2="750.5" stroke="#000" stroke-width="2"/>
<line x1="968.5" y1="743.5" x2="998.5" y2="743.5" stroke="#000" stroke-width="2"/>
<line x1="968.5" y1="750.5" x2="998.5" y2="750.5" stroke="#000" stroke-width="2"/>
<line x1="1074.9" y1="725" x2="1074.9" y2="733.5" stroke="#000" stroke-width="2"/>
<line x1="1059.9" y1="725" x2="1089.9" y2="725" stroke="#000" stroke-width="2"/>
<line x1="1059.9" y1="733.5" x2="1089.9" y2="733.5" stroke="#000" stroke-width="2"/>
<text x="967.2" y="997.3" font-size="28.2">WT</text>
<text x="1025.8" y="997.3" font-size="28.6"><tspan font-style="italic">Mmp9</tspan> UTRmut</text>
<line x1="984" y1="650" x2="1074.9" y2="650" stroke="#000" stroke-width="2"/>
<text x="1028.9" y="656.8" font-size="33" text-anchor="middle" stroke="#000" stroke-width="0.7">**</text>
<circle cx="979.07" cy="692.1" r="3" fill="#000"/>
<circle cx="987.71" cy="694.15" r="3" fill="#000"/>
<circle cx="983.6" cy="705.53" r="3" fill="#000"/>
<circle cx="992.37" cy="706.9" r="3" fill="#000"/>
<circle cx="974.69" cy="711.29" r="3" fill="#000"/>
<circle cx="983.6" cy="713.76" r="3" fill="#000"/>
<circle cx="996.62" cy="715.82" r="3" fill="#000"/>
<circle cx="970.44" cy="720.2" r="3" fill="#000"/>
<circle cx="979.07" cy="721.99" r="3" fill="#000"/>
<circle cx="987.98" cy="721.57" r="3" fill="#000"/>
<circle cx="957.14" cy="725.69" r="3" fill="#000"/>
<circle cx="966.05" cy="727.74" r="3" fill="#000"/>
<circle cx="974.69" cy="730.49" r="3" fill="#000"/>
<circle cx="983.6" cy="730.49" r="3" fill="#000"/>
<circle cx="992.37" cy="729.53" r="3" fill="#000"/>
<circle cx="1001.01" cy="726.1" r="3" fill="#000"/>
<circle cx="1009.65" cy="725.69" r="3" fill="#000"/>
<circle cx="966.05" cy="736.65" r="3" fill="#000"/>
<circle cx="974.69" cy="740.77" r="3" fill="#000"/>
<circle cx="983.6" cy="741.45" r="3" fill="#000"/>
<circle cx="992.37" cy="741.18" r="3" fill="#000"/>
<circle cx="1005.53" cy="740.77" r="3" fill="#000"/>
<circle cx="966.05" cy="745.57" r="3" fill="#000"/>
<circle cx="1001.01" cy="747.62" r="3" fill="#000"/>
<circle cx="974.69" cy="749.68" r="3" fill="#000"/>
<circle cx="961.25" cy="754.48" r="3" fill="#000"/>
<circle cx="968.11" cy="755.16" r="3" fill="#000"/>
<circle cx="974.27" cy="756.53" r="3" fill="#000"/>
<circle cx="980.44" cy="757.91" r="3" fill="#000"/>
<circle cx="986.61" cy="757.63" r="3" fill="#000"/>
<circle cx="992.78" cy="755.85" r="3" fill="#000"/>
<circle cx="999.64" cy="754.89" r="3" fill="#000"/>
<circle cx="1005.53" cy="754.07" r="3" fill="#000"/>
<circle cx="970.44" cy="761.74" r="3" fill="#000"/>
<circle cx="996.62" cy="764.76" r="3" fill="#000"/>
<circle cx="979.07" cy="766.82" r="3" fill="#000"/>
<circle cx="987.71" cy="768.19" r="3" fill="#000"/>
<circle cx="957.14" cy="770.93" r="3" fill="#000"/>
<circle cx="966.05" cy="771.89" r="3" fill="#000"/>
<circle cx="974.69" cy="774.63" r="3" fill="#000"/>
<circle cx="983.6" cy="776" r="3" fill="#000"/>
<circle cx="992.37" cy="774.63" r="3" fill="#000"/>
<circle cx="1001.01" cy="771.89" r="3" fill="#000"/>
<circle cx="1009.92" cy="770.93" r="3" fill="#000"/>
<circle cx="974.69" cy="788.07" r="3" fill="#000"/>
<circle cx="983.6" cy="788.34" r="3" fill="#000"/>
<circle cx="992.37" cy="785.32" r="3" fill="#000"/>
<circle cx="983.6" cy="797.66" r="3" fill="#000"/>
<circle cx="1070.93" cy="663.31" r="3" fill="#000"/>
<circle cx="1079.84" cy="666.05" r="3" fill="#000"/>
<circle cx="1079.84" cy="675.92" r="3" fill="#000"/>
<circle cx="1070.93" cy="683.87" r="3" fill="#000"/>
<circle cx="1057.91" cy="691" r="3" fill="#000"/>
<circle cx="1066.54" cy="692.1" r="3" fill="#000"/>
<circle cx="1075.45" cy="694.15" r="3" fill="#000"/>
<circle cx="1084.23" cy="691.82" r="3" fill="#000"/>
<circle cx="1092.87" cy="688.4" r="3" fill="#000"/>
<circle cx="1057.91" cy="703.75" r="3" fill="#000"/>
<circle cx="1066.54" cy="706.9" r="3" fill="#000"/>
<circle cx="1075.45" cy="709.92" r="3" fill="#000"/>
<circle cx="1084.23" cy="708.55" r="3" fill="#000"/>
<circle cx="1092.87" cy="705.12" r="3" fill="#000"/>
<circle cx="1048.31" cy="712.66" r="3" fill="#000"/>
<circle cx="1055.85" cy="712.66" r="3" fill="#000"/>
<circle cx="1064.07" cy="714.72" r="3" fill="#000"/>
<circle cx="1071.62" cy="718.15" r="3" fill="#000"/>
<circle cx="1079.57" cy="719.24" r="3" fill="#000"/>
<circle cx="1087.38" cy="715.82" r="3" fill="#000"/>
<circle cx="1094.92" cy="713.76" r="3" fill="#000"/>
<circle cx="1102.87" cy="712.94" r="3" fill="#000"/>
<circle cx="1057.91" cy="725" r="3" fill="#000"/>
<circle cx="1088.75" cy="723.63" r="3" fill="#000"/>
<circle cx="1066.54" cy="727.74" r="3" fill="#000"/>
<circle cx="1078.47" cy="727.06" r="3" fill="#000"/>
<circle cx="1053.79" cy="728.43" r="3" fill="#000"/>
<circle cx="1096.29" cy="729.8" r="3" fill="#000"/>
<circle cx="1062.02" cy="731.17" r="3" fill="#000"/>
<circle cx="1070.93" cy="734.6" r="3" fill="#000"/>
<circle cx="1079.84" cy="735.28" r="3" fill="#000"/>
<circle cx="1088.07" cy="733.23" r="3" fill="#000"/>
<circle cx="1057.91" cy="738.99" r="3" fill="#000"/>
<circle cx="1066.54" cy="742.14" r="3" fill="#000"/>
<circle cx="1092.87" cy="741.73" r="3" fill="#000"/>
<circle cx="1075.45" cy="746.25" r="3" fill="#000"/>
<circle cx="1084.23" cy="745.57" r="3" fill="#000"/>
<circle cx="1084.23" cy="753.79" r="3" fill="#000"/>
<circle cx="1075.45" cy="757.63" r="3" fill="#000"/>
<circle cx="1062.02" cy="756.53" r="3" fill="#000"/>
<circle cx="1066.13" cy="759" r="3" fill="#000"/>
<circle cx="1084.23" cy="762.02" r="3" fill="#000"/>
<circle cx="1075.45" cy="766.41" r="3" fill="#000"/>
<circle cx="1057.91" cy="772.3" r="3" fill="#000"/>
<circle cx="1066.54" cy="775.45" r="3" fill="#000"/>
<circle cx="1075.45" cy="776.82" r="3" fill="#000"/>
<circle cx="1084.23" cy="773.67" r="3" fill="#000"/>
<circle cx="1092.87" cy="772.3" r="3" fill="#000"/>
<circle cx="1079.84" cy="790.81" r="3" fill="#000"/>
<circle cx="1070.93" cy="796.29" r="3" fill="#000"/>
<text x="0.1" y="1044.3" font-size="33" font-weight="bold">E</text>
<text x="368.5" y="1080" font-size="32" text-anchor="middle">length/width</text>
<line x1="98.3" y1="1087.2" x2="98.3" y2="1440.9" stroke="#000" stroke-width="2"/>
<line x1="83.5" y1="1439.9" x2="625.5" y2="1439.9" stroke="#000" stroke-width="2"/>
<line x1="83.5" y1="1439.9" x2="98.3" y2="1439.9" stroke="#000" stroke-width="2"/>
<line x1="90.3" y1="1404.73" x2="98.3" y2="1404.73" stroke="#000" stroke-width="2"/>
<line x1="90.3" y1="1369.56" x2="98.3" y2="1369.56" stroke="#000" stroke-width="2"/>
<line x1="90.3" y1="1334.39" x2="98.3" y2="1334.39" stroke="#000" stroke-width="2"/>
<line x1="90.3" y1="1299.22" x2="98.3" y2="1299.22" stroke="#000" stroke-width="2"/>
<line x1="83.5" y1="1264.05" x2="98.3" y2="1264.05" stroke="#000" stroke-width="2"/>
<line x1="90.3" y1="1228.88" x2="98.3" y2="1228.88" stroke="#000" stroke-width="2"/>
<line x1="90.3" y1="1193.71" x2="98.3" y2="1193.71" stroke="#000" stroke-width="2"/>
<line x1="90.3" y1="1158.54" x2="98.3" y2="1158.54" stroke="#000" stroke-width="2"/>
<line x1="90.3" y1="1123.37" x2="98.3" y2="1123.37" stroke="#000" stroke-width="2"/>
<line x1="83.5" y1="1088.2" x2="98.3" y2="1088.2" stroke="#000" stroke-width="2"/>
<text x="78.5" y="1448.7" font-size="25.5" text-anchor="end">0</text>
<text x="78.5" y="1272.85" font-size="25.5" text-anchor="end">50</text>
<text x="78.5" y="1097" font-size="25.5" text-anchor="end">100</text>
<line x1="98.3" y1="1439.9" x2="98.3" y2="1453.6" stroke="#000" stroke-width="2"/>
<text x="98.3" y="1482.9" font-size="27" text-anchor="middle">0</text>
<line x1="273.7" y1="1439.9" x2="273.7" y2="1453.6" stroke="#000" stroke-width="2"/>
<text x="273.7" y="1482.9" font-size="27" text-anchor="middle">2</text>
<line x1="449.1" y1="1439.9" x2="449.1" y2="1453.6" stroke="#000" stroke-width="2"/>
<text x="449.1" y="1482.9" font-size="27" text-anchor="middle">4</text>
<line x1="624.5" y1="1439.9" x2="624.5" y2="1453.6" stroke="#000" stroke-width="2"/>
<text x="624.5" y="1482.9" font-size="27" text-anchor="middle">6</text>
<text x="360" y="1509" font-size="28.4" text-anchor="middle">length/width</text>
<text x="42.2" y="1264.35" font-size="28.85" text-anchor="middle" transform="rotate(-90 42.2 1264.35)">cumulative frequency [%]</text>
<polyline points="115.84,1439.9 150.92,1438.14 168.46,1437.79 186,1434.27 203.54,1421.61 221.08,1405.79 238.62,1385.03 256.16,1289.72 273.7,1156.78 291.24,1119.85 308.78,1107.19 326.32,1101.21 343.86,1098.75 361.4,1092.42 378.94,1089.96 414.02,1088.2 571.88,1088.2" fill="none" stroke="#740896" stroke-width="3.5" stroke-linejoin="round"/>
<polyline points="115.84,1439.9 168.46,1438.84 186,1436.73 203.54,1432.51 221.08,1423.02 238.62,1406.84 256.16,1380.46 273.7,1331.22 291.24,1207.78 308.78,1134.98 326.32,1110.71 343.86,1101.56 361.4,1096.99 378.94,1091.37 396.48,1089.96 414.02,1089.61 449.1,1089.43 554.34,1089.26 571.88,1088.2" fill="none" stroke="#008000" stroke-width="3.5" stroke-linejoin="round"/>
<line x1="113" y1="1107.5" x2="150" y2="1107.5" stroke="#008000" stroke-width="3.7"/>
<line x1="113" y1="1128.6" x2="150" y2="1128.6" stroke="#740896" stroke-width="3.7"/>
<text x="155" y="1113.7" font-size="25.5">WT</text>
<text x="155" y="1135.8" font-size="25.5" font-style="italic">Mmp9</text>
<text x="155" y="1164" font-size="25.5">UTRmut</text>
<line x1="448" y1="1132.5" x2="448" y2="1397.4" stroke="#000" stroke-width="2"/>
<line x1="441" y1="1396.4" x2="611.6" y2="1396.4" stroke="#000" stroke-width="2"/>
<line x1="441" y1="1396.4" x2="448" y2="1396.4" stroke="#000" stroke-width="2"/>
<text x="437.4" y="1403.8" font-size="20.5" text-anchor="end">0.0</text>
<line x1="441" y1="1343.82" x2="448" y2="1343.82" stroke="#000" stroke-width="2"/>
<text x="437.4" y="1351.22" font-size="20.5" text-anchor="end">0.5</text>
<line x1="441" y1="1291.24" x2="448" y2="1291.24" stroke="#000" stroke-width="2"/>
<text x="437.4" y="1298.64" font-size="20.5" text-anchor="end">1.0</text>
<line x1="441" y1="1238.66" x2="448" y2="1238.66" stroke="#000" stroke-width="2"/>
<text x="437.4" y="1246.06" font-size="20.5" text-anchor="end">1.5</text>
<line x1="441" y1="1186.08" x2="448" y2="1186.08" stroke="#000" stroke-width="2"/>
<text x="437.4" y="1193.48" font-size="20.5" text-anchor="end">2.0</text>
<line x1="441" y1="1133.5" x2="448" y2="1133.5" stroke="#000" stroke-width="2"/>
<text x="437.4" y="1140.9" font-size="20.5" text-anchor="end">2.5</text>
<rect x="472.05" y="1160.05" width="43.7" height="236.35" fill="#008000" stroke="#000" stroke-width="2.5"/>
<rect x="541.95" y="1193.65" width="43.8" height="202.75" fill="#740896" stroke="#000" stroke-width="2.5"/>
<line x1="493.9" y1="1155.4" x2="493.9" y2="1162.2" stroke="#000" stroke-width="2"/>
<line x1="482.6" y1="1155.4" x2="505.2" y2="1155.4" stroke="#000" stroke-width="2"/>
<line x1="482.6" y1="1162.2" x2="505.2" y2="1162.2" stroke="#000" stroke-width="2"/>
<line x1="563.85" y1="1189.4" x2="563.85" y2="1195.4" stroke="#000" stroke-width="2"/>
<line x1="552.55" y1="1189.4" x2="575.15" y2="1189.4" stroke="#000" stroke-width="2"/>
<line x1="552.55" y1="1195.4" x2="575.15" y2="1195.4" stroke="#000" stroke-width="2"/>
<line x1="493.9" y1="1396.4" x2="493.9" y2="1404.4" stroke="#000" stroke-width="2"/>
<line x1="563.85" y1="1396.4" x2="563.85" y2="1404.4" stroke="#000" stroke-width="2"/>
<text x="493.9" y="1424.7" font-size="25.2" text-anchor="middle">WT</text>
<text x="563.35" y="1424.7" font-size="25.2" text-anchor="middle">mut</text>
<line x1="493.9" y1="1146.6" x2="563.85" y2="1146.6" stroke="#000" stroke-width="2"/>
<text x="528.88" y="1149.6" font-size="25" text-anchor="middle" stroke="#000" stroke-width="0.5">***</text>
<text x="401.5" y="1255" font-size="25.5" text-anchor="middle" transform="rotate(-90 401.5 1255)">length/width</text>
<text x="686.9" y="1043.8" font-size="33" font-weight="bold">F</text>
<text x="1030" y="1080" font-size="32" text-anchor="middle">spine length</text>
<line x1="767.4" y1="1087.4" x2="767.4" y2="1440.9" stroke="#000" stroke-width="2"/>
<line x1="752.6" y1="1439.9" x2="1295.8" y2="1439.9" stroke="#000" stroke-width="2"/>
<line x1="752.6" y1="1439.9" x2="767.4" y2="1439.9" stroke="#000" stroke-width="2"/>
<line x1="759.4" y1="1404.75" x2="767.4" y2="1404.75" stroke="#000" stroke-width="2"/>
<line x1="759.4" y1="1369.6" x2="767.4" y2="1369.6" stroke="#000" stroke-width="2"/>
<line x1="759.4" y1="1334.45" x2="767.4" y2="1334.45" stroke="#000" stroke-width="2"/>
<line x1="759.4" y1="1299.3" x2="767.4" y2="1299.3" stroke="#000" stroke-width="2"/>
<line x1="752.6" y1="1264.15" x2="767.4" y2="1264.15" stroke="#000" stroke-width="2"/>
<line x1="759.4" y1="1229" x2="767.4" y2="1229" stroke="#000" stroke-width="2"/>
<line x1="759.4" y1="1193.85" x2="767.4" y2="1193.85" stroke="#000" stroke-width="2"/>
<line x1="759.4" y1="1158.7" x2="767.4" y2="1158.7" stroke="#000" stroke-width="2"/>
<line x1="759.4" y1="1123.55" x2="767.4" y2="1123.55" stroke="#000" stroke-width="2"/>
<line x1="752.6" y1="1088.4" x2="767.4" y2="1088.4" stroke="#000" stroke-width="2"/>
<text x="747.6" y="1448.7" font-size="25.5" text-anchor="end">0</text>
<text x="747.6" y="1272.95" font-size="25.5" text-anchor="end">50</text>
<text x="747.6" y="1097.2" font-size="25.5" text-anchor="end">100</text>
<line x1="767.4" y1="1439.9" x2="767.4" y2="1453.6" stroke="#000" stroke-width="2"/>
<text x="767.4" y="1482.9" font-size="27" text-anchor="middle">0.0</text>
<line x1="899.25" y1="1439.9" x2="899.25" y2="1453.6" stroke="#000" stroke-width="2"/>
<text x="899.25" y="1482.9" font-size="27" text-anchor="middle">0.5</text>
<line x1="1031.1" y1="1439.9" x2="1031.1" y2="1453.6" stroke="#000" stroke-width="2"/>
<text x="1031.1" y="1482.9" font-size="27" text-anchor="middle">1.0</text>
<line x1="1162.95" y1="1439.9" x2="1162.95" y2="1453.6" stroke="#000" stroke-width="2"/>
<text x="1162.95" y="1482.9" font-size="27" text-anchor="middle">1.5</text>
<line x1="1294.8" y1="1439.9" x2="1294.8" y2="1453.6" stroke="#000" stroke-width="2"/>
<text x="1294.8" y="1482.9" font-size="27" text-anchor="middle">2.0</text>
<text x="1039" y="1509" font-size="28.4" text-anchor="middle">spine length</text>
<text x="711.7" y="1264.45" font-size="28.85" text-anchor="middle" transform="rotate(-90 711.7 1264.45)">cumulative frequency [%]</text>
<polyline points="793.77,1439.2 820.14,1438.49 846.51,1433.92 872.88,1414.59 899.25,1362.92 925.62,1168.19 951.99,1116.52 978.36,1102.81 1004.73,1096.13 1031.1,1093.67 1057.47,1091.56 1083.84,1090.86 1136.58,1088.4 1242.06,1088.4" fill="none" stroke="#740896" stroke-width="3.5" stroke-linejoin="round"/>
<polyline points="793.77,1439.9 820.14,1439.55 846.51,1435.68 872.88,1420.57 899.25,1389.64 925.62,1301.41 951.99,1137.26 978.36,1107.38 1004.73,1097.19 1031.1,1094.73 1057.47,1094.38 1083.84,1090.86 1110.21,1089.45 1189.32,1089.1 1215.69,1088.4 1242.06,1088.4" fill="none" stroke="#008000" stroke-width="3.5" stroke-linejoin="round"/>
<line x1="780.5" y1="1107.7" x2="817.5" y2="1107.7" stroke="#008000" stroke-width="3.7"/>
<line x1="780.5" y1="1128.8" x2="817.5" y2="1128.8" stroke="#740896" stroke-width="3.7"/>
<text x="822.5" y="1113.9" font-size="25.5">WT</text>
<text x="822.5" y="1136" font-size="25.5" font-style="italic">Mmp9</text>
<text x="822.5" y="1164.2" font-size="25.5">UTRmut</text>
<line x1="1117.1" y1="1132" x2="1117.1" y2="1398.1" stroke="#000" stroke-width="2"/>
<line x1="1110.1" y1="1397.1" x2="1280.2" y2="1397.1" stroke="#000" stroke-width="2"/>
<line x1="1110.1" y1="1397.1" x2="1117.1" y2="1397.1" stroke="#000" stroke-width="2"/>
<text x="1106.2" y="1404.5" font-size="20.5" text-anchor="end">0.0</text>
<line x1="1110.1" y1="1331.07" x2="1117.1" y2="1331.07" stroke="#000" stroke-width="2"/>
<text x="1106.2" y="1338.47" font-size="20.5" text-anchor="end">0.2</text>
<line x1="1110.1" y1="1265.05" x2="1117.1" y2="1265.05" stroke="#000" stroke-width="2"/>
<text x="1106.2" y="1272.45" font-size="20.5" text-anchor="end">0.4</text>
<line x1="1110.1" y1="1199.03" x2="1117.1" y2="1199.03" stroke="#000" stroke-width="2"/>
<text x="1106.2" y="1206.43" font-size="20.5" text-anchor="end">0.6</text>
<line x1="1110.1" y1="1133" x2="1117.1" y2="1133" stroke="#000" stroke-width="2"/>
<text x="1106.2" y="1140.4" font-size="20.5" text-anchor="end">0.8</text>
<rect x="1141.35" y="1175.25" width="43.8" height="221.85" fill="#008000" stroke="#000" stroke-width="2.5"/>
<rect x="1210.95" y="1202.45" width="43.7" height="194.65" fill="#740896" stroke="#000" stroke-width="2.5"/>
<line x1="1163.25" y1="1170" x2="1163.25" y2="1178" stroke="#000" stroke-width="2"/>
<line x1="1151.95" y1="1170" x2="1174.55" y2="1170" stroke="#000" stroke-width="2"/>
<line x1="1151.95" y1="1178" x2="1174.55" y2="1178" stroke="#000" stroke-width="2"/>
<line x1="1232.8" y1="1198" x2="1232.8" y2="1204.4" stroke="#000" stroke-width="2"/>
<line x1="1221.5" y1="1198" x2="1244.1" y2="1198" stroke="#000" stroke-width="2"/>
<line x1="1221.5" y1="1204.4" x2="1244.1" y2="1204.4" stroke="#000" stroke-width="2"/>
<line x1="1163.25" y1="1397.1" x2="1163.25" y2="1405.1" stroke="#000" stroke-width="2"/>
<line x1="1232.8" y1="1397.1" x2="1232.8" y2="1405.1" stroke="#000" stroke-width="2"/>
<text x="1163.25" y="1425.4" font-size="25.2" text-anchor="middle">WT</text>
<text x="1232.3" y="1425.4" font-size="25.2" text-anchor="middle">mut</text>
<line x1="1163.25" y1="1162.7" x2="1232.8" y2="1162.7" stroke="#000" stroke-width="2"/>
<text x="1198.03" y="1165.7" font-size="25" text-anchor="middle" stroke="#000" stroke-width="0.5">***</text>
<text x="1070.8" y="1259" font-size="25.5" text-anchor="middle" transform="rotate(-90 1070.8 1259)">length</text>
<text x="1.9" y="1585.8" font-size="33" font-weight="bold">G</text>
<text x="364" y="1613.5" font-size="32" text-anchor="middle">spine area</text>
<line x1="98.3" y1="1619.8" x2="98.3" y2="1973.6" stroke="#000" stroke-width="2"/>
<line x1="83.5" y1="1972.6" x2="625.9" y2="1972.6" stroke="#000" stroke-width="2"/>
<line x1="83.5" y1="1972.6" x2="98.3" y2="1972.6" stroke="#000" stroke-width="2"/>
<line x1="90.3" y1="1937.42" x2="98.3" y2="1937.42" stroke="#000" stroke-width="2"/>
<line x1="90.3" y1="1902.24" x2="98.3" y2="1902.24" stroke="#000" stroke-width="2"/>
<line x1="90.3" y1="1867.06" x2="98.3" y2="1867.06" stroke="#000" stroke-width="2"/>
<line x1="90.3" y1="1831.88" x2="98.3" y2="1831.88" stroke="#000" stroke-width="2"/>
<line x1="83.5" y1="1796.7" x2="98.3" y2="1796.7" stroke="#000" stroke-width="2"/>
<line x1="90.3" y1="1761.52" x2="98.3" y2="1761.52" stroke="#000" stroke-width="2"/>
<line x1="90.3" y1="1726.34" x2="98.3" y2="1726.34" stroke="#000" stroke-width="2"/>
<line x1="90.3" y1="1691.16" x2="98.3" y2="1691.16" stroke="#000" stroke-width="2"/>
<line x1="90.3" y1="1655.98" x2="98.3" y2="1655.98" stroke="#000" stroke-width="2"/>
<line x1="83.5" y1="1620.8" x2="98.3" y2="1620.8" stroke="#000" stroke-width="2"/>
<text x="78.5" y="1981.4" font-size="25.5" text-anchor="end">0</text>
<text x="78.5" y="1805.5" font-size="25.5" text-anchor="end">50</text>
<text x="78.5" y="1629.6" font-size="25.5" text-anchor="end">100</text>
<line x1="98.3" y1="1972.6" x2="98.3" y2="1986.3" stroke="#000" stroke-width="2"/>
<text x="98.3" y="2015.6" font-size="27" text-anchor="middle">0.0</text>
<line x1="229.95" y1="1972.6" x2="229.95" y2="1986.3" stroke="#000" stroke-width="2"/>
<text x="229.95" y="2015.6" font-size="27" text-anchor="middle">0.1</text>
<line x1="361.6" y1="1972.6" x2="361.6" y2="1986.3" stroke="#000" stroke-width="2"/>
<text x="361.6" y="2015.6" font-size="27" text-anchor="middle">0.2</text>
<line x1="493.25" y1="1972.6" x2="493.25" y2="1986.3" stroke="#000" stroke-width="2"/>
<text x="493.25" y="2015.6" font-size="27" text-anchor="middle">0.3</text>
<line x1="624.9" y1="1972.6" x2="624.9" y2="1986.3" stroke="#000" stroke-width="2"/>
<text x="624.9" y="2015.6" font-size="27" text-anchor="middle">0.4</text>
<text x="368" y="2041" font-size="28.4" text-anchor="middle">spine area</text>
<text x="42.2" y="1797" font-size="28.85" text-anchor="middle" transform="rotate(-90 42.2 1797)">cumulative frequency [%]</text>
<polyline points="150.96,1972.6 177.29,1966.27 203.62,1961.69 229.95,1955.71 256.28,1936.36 282.61,1865.3 308.94,1701.01 335.27,1661.96 361.6,1650.7 387.93,1640.15 414.26,1633.11 440.59,1630.3 466.92,1627.84 493.25,1624.32 519.58,1623.61 545.91,1620.8 572.24,1620.8" fill="none" stroke="#740896" stroke-width="3.5" stroke-linejoin="round"/>
<polyline points="150.96,1972.6 177.29,1971.9 203.62,1962.75 229.95,1952.55 256.28,1924.76 282.61,1892.74 308.94,1731.97 335.27,1652.11 361.6,1635.58 387.93,1628.89 414.26,1625.73 440.59,1623.61 466.92,1622.91 493.25,1622.56 519.58,1622.21 545.91,1621.86 572.24,1620.8" fill="none" stroke="#008000" stroke-width="3.5" stroke-linejoin="round"/>
<line x1="113.5" y1="1638.3" x2="150.5" y2="1638.3" stroke="#008000" stroke-width="3.7"/>
<line x1="113.5" y1="1659.4" x2="150.5" y2="1659.4" stroke="#740896" stroke-width="3.7"/>
<text x="155.5" y="1644.5" font-size="25.5">WT</text>
<text x="155.5" y="1666.6" font-size="25.5" font-style="italic">Mmp9</text>
<text x="155.5" y="1694.8" font-size="25.5">UTRmut</text>
<line x1="447.7" y1="1668.5" x2="447.7" y2="1934.3" stroke="#000" stroke-width="2"/>
<line x1="440.7" y1="1933.3" x2="611.6" y2="1933.3" stroke="#000" stroke-width="2"/>
<line x1="440.7" y1="1933.3" x2="447.7" y2="1933.3" stroke="#000" stroke-width="2"/>
<text x="436.3" y="1940.7" font-size="20.5" text-anchor="end">0.00</text>
<line x1="440.7" y1="1867.35" x2="447.7" y2="1867.35" stroke="#000" stroke-width="2"/>
<text x="436.3" y="1874.75" font-size="20.5" text-anchor="end">0.05</text>
<line x1="440.7" y1="1801.4" x2="447.7" y2="1801.4" stroke="#000" stroke-width="2"/>
<text x="436.3" y="1808.8" font-size="20.5" text-anchor="end">0.10</text>
<line x1="440.7" y1="1735.45" x2="447.7" y2="1735.45" stroke="#000" stroke-width="2"/>
<text x="436.3" y="1742.85" font-size="20.5" text-anchor="end">0.15</text>
<line x1="440.7" y1="1669.5" x2="447.7" y2="1669.5" stroke="#000" stroke-width="2"/>
<text x="436.3" y="1676.9" font-size="20.5" text-anchor="end">0.20</text>
<rect x="472.05" y="1717.25" width="43.7" height="216.05" fill="#008000" stroke="#000" stroke-width="2.5"/>
<rect x="541.95" y="1727.45" width="43.8" height="205.85" fill="#740896" stroke="#000" stroke-width="2.5"/>
<line x1="493.9" y1="1712.3" x2="493.9" y2="1719.7" stroke="#000" stroke-width="2"/>
<line x1="482.6" y1="1712.3" x2="505.2" y2="1712.3" stroke="#000" stroke-width="2"/>
<line x1="482.6" y1="1719.7" x2="505.2" y2="1719.7" stroke="#000" stroke-width="2"/>
<line x1="563.85" y1="1723.2" x2="563.85" y2="1729.2" stroke="#000" stroke-width="2"/>
<line x1="552.55" y1="1723.2" x2="575.15" y2="1723.2" stroke="#000" stroke-width="2"/>
<line x1="552.55" y1="1729.2" x2="575.15" y2="1729.2" stroke="#000" stroke-width="2"/>
<line x1="493.9" y1="1933.3" x2="493.9" y2="1941.3" stroke="#000" stroke-width="2"/>
<line x1="563.85" y1="1933.3" x2="563.85" y2="1941.3" stroke="#000" stroke-width="2"/>
<text x="498.2" y="1961.6" font-size="25.2" text-anchor="middle">WT</text>
<text x="567.65" y="1961.6" font-size="25.2" text-anchor="middle">mut</text>
<line x1="493.9" y1="1705.1" x2="563.85" y2="1705.1" stroke="#000" stroke-width="2"/>
<text x="528.88" y="1708.1" font-size="25" text-anchor="middle" stroke="#000" stroke-width="0.5">**</text>
<text x="391.4" y="1798" font-size="25.5" text-anchor="middle" transform="rotate(-90 391.4 1798)">area</text>
<text x="687.2" y="1585.8" font-size="33" font-weight="bold">H</text>
<text x="1030" y="1613.5" font-size="32" text-anchor="middle">spine head width</text>
<line x1="765" y1="1619.8" x2="765" y2="1973.6" stroke="#000" stroke-width="2"/>
<line x1="750.2" y1="1972.6" x2="1292.6" y2="1972.6" stroke="#000" stroke-width="2"/>
<line x1="750.2" y1="1972.6" x2="765" y2="1972.6" stroke="#000" stroke-width="2"/>
<line x1="757" y1="1937.42" x2="765" y2="1937.42" stroke="#000" stroke-width="2"/>
<line x1="757" y1="1902.24" x2="765" y2="1902.24" stroke="#000" stroke-width="2"/>
<line x1="757" y1="1867.06" x2="765" y2="1867.06" stroke="#000" stroke-width="2"/>
<line x1="757" y1="1831.88" x2="765" y2="1831.88" stroke="#000" stroke-width="2"/>
<line x1="750.2" y1="1796.7" x2="765" y2="1796.7" stroke="#000" stroke-width="2"/>
<line x1="757" y1="1761.52" x2="765" y2="1761.52" stroke="#000" stroke-width="2"/>
<line x1="757" y1="1726.34" x2="765" y2="1726.34" stroke="#000" stroke-width="2"/>
<line x1="757" y1="1691.16" x2="765" y2="1691.16" stroke="#000" stroke-width="2"/>
<line x1="757" y1="1655.98" x2="765" y2="1655.98" stroke="#000" stroke-width="2"/>
<line x1="750.2" y1="1620.8" x2="765" y2="1620.8" stroke="#000" stroke-width="2"/>
<text x="745.2" y="1981.4" font-size="25.5" text-anchor="end">0</text>
<text x="745.2" y="1805.5" font-size="25.5" text-anchor="end">50</text>
<text x="745.2" y="1629.6" font-size="25.5" text-anchor="end">100</text>
<line x1="765" y1="1972.6" x2="765" y2="1986.3" stroke="#000" stroke-width="2"/>
<text x="765" y="2015.6" font-size="27" text-anchor="middle">0.0</text>
<line x1="896.65" y1="1972.6" x2="896.65" y2="1986.3" stroke="#000" stroke-width="2"/>
<text x="896.65" y="2015.6" font-size="27" text-anchor="middle">0.2</text>
<line x1="1028.3" y1="1972.6" x2="1028.3" y2="1986.3" stroke="#000" stroke-width="2"/>
<text x="1028.3" y="2015.6" font-size="27" text-anchor="middle">0.4</text>
<line x1="1159.95" y1="1972.6" x2="1159.95" y2="1986.3" stroke="#000" stroke-width="2"/>
<text x="1159.95" y="2015.6" font-size="27" text-anchor="middle">0.6</text>
<line x1="1291.6" y1="1972.6" x2="1291.6" y2="1986.3" stroke="#000" stroke-width="2"/>
<text x="1291.6" y="2015.6" font-size="27" text-anchor="middle">0.8</text>
<text x="1040" y="2041" font-size="28.4" text-anchor="middle">spine head width</text>
<text x="709.9" y="1797" font-size="28.85" text-anchor="middle" transform="rotate(-90 709.9 1797)">cumulative frequency [%]</text>
<polyline points="844,1971.54 857.16,1968.03 870.33,1968.03 883.49,1968.03 896.66,1965.56 909.83,1959.94 922.99,1957.82 936.16,1951.84 949.32,1942.7 962.49,1874.1 975.66,1741.12 988.82,1695.38 1001.99,1665.48 1015.15,1656.33 1028.32,1640.15 1041.49,1631 1054.65,1625.37 1067.82,1625.02 1080.98,1623.26 1094.15,1622.56 1173.15,1622.21 1212.64,1620.8" fill="none" stroke="#740896" stroke-width="3.5" stroke-linejoin="round"/>
<polyline points="844,1972.6 857.16,1972.25 883.49,1972.25 896.66,1969.79 909.83,1965.56 922.99,1957.82 936.16,1949.73 949.32,1927.92 962.49,1810.77 975.66,1702.07 988.82,1665.48 1001.99,1639.09 1015.15,1635.58 1028.32,1627.84 1041.49,1624.32 1054.65,1621.86 1067.82,1620.8 1212.64,1620.8" fill="none" stroke="#008000" stroke-width="3.5" stroke-linejoin="round"/>
<line x1="778" y1="1638.3" x2="815" y2="1638.3" stroke="#008000" stroke-width="3.7"/>
<line x1="778" y1="1659.4" x2="815" y2="1659.4" stroke="#740896" stroke-width="3.7"/>
<text x="820" y="1644.5" font-size="25.5">WT</text>
<text x="820" y="1666.6" font-size="25.5" font-style="italic">Mmp9</text>
<text x="820" y="1694.8" font-size="25.5">UTRmut</text>
<line x1="1114.4" y1="1668.5" x2="1114.4" y2="1934.3" stroke="#000" stroke-width="2"/>
<line x1="1107.4" y1="1933.3" x2="1278.1" y2="1933.3" stroke="#000" stroke-width="2"/>
<line x1="1107.4" y1="1933.3" x2="1114.4" y2="1933.3" stroke="#000" stroke-width="2"/>
<text x="1102.6" y="1940.7" font-size="20.5" text-anchor="end">0.0</text>
<line x1="1107.4" y1="1867.35" x2="1114.4" y2="1867.35" stroke="#000" stroke-width="2"/>
<text x="1102.6" y="1874.75" font-size="20.5" text-anchor="end">0.1</text>
<line x1="1107.4" y1="1801.4" x2="1114.4" y2="1801.4" stroke="#000" stroke-width="2"/>
<text x="1102.6" y="1808.8" font-size="20.5" text-anchor="end">0.2</text>
<line x1="1107.4" y1="1735.45" x2="1114.4" y2="1735.45" stroke="#000" stroke-width="2"/>
<text x="1102.6" y="1742.85" font-size="20.5" text-anchor="end">0.3</text>
<line x1="1107.4" y1="1669.5" x2="1114.4" y2="1669.5" stroke="#000" stroke-width="2"/>
<text x="1102.6" y="1676.9" font-size="20.5" text-anchor="end">0.4</text>
<rect x="1138.95" y="1728.95" width="43.3" height="204.35" fill="#008000" stroke="#000" stroke-width="2.5"/>
<rect x="1208.85" y="1724.85" width="43.3" height="208.45" fill="#740896" stroke="#000" stroke-width="2.5"/>
<line x1="1160.6" y1="1725.1" x2="1160.6" y2="1730.3" stroke="#000" stroke-width="2"/>
<line x1="1149.3" y1="1725.1" x2="1171.9" y2="1725.1" stroke="#000" stroke-width="2"/>
<line x1="1149.3" y1="1730.3" x2="1171.9" y2="1730.3" stroke="#000" stroke-width="2"/>
<line x1="1230.5" y1="1721" x2="1230.5" y2="1726.2" stroke="#000" stroke-width="2"/>
<line x1="1219.2" y1="1721" x2="1241.8" y2="1721" stroke="#000" stroke-width="2"/>
<line x1="1219.2" y1="1726.2" x2="1241.8" y2="1726.2" stroke="#000" stroke-width="2"/>
<line x1="1160.6" y1="1933.3" x2="1160.6" y2="1941.3" stroke="#000" stroke-width="2"/>
<line x1="1230.5" y1="1933.3" x2="1230.5" y2="1941.3" stroke="#000" stroke-width="2"/>
<text x="1164.2" y="1961.6" font-size="25.2" text-anchor="middle">WT</text>
<text x="1233.6" y="1961.6" font-size="25.2" text-anchor="middle">mut</text>
<line x1="1160.6" y1="1713.3" x2="1230.5" y2="1713.3" stroke="#000" stroke-width="2"/>
<text x="1195.55" y="1710.2" font-size="18" text-anchor="middle" font-style="italic">ns</text>
<text x="1067.5" y="1792.4" font-size="25.5" text-anchor="middle" transform="rotate(-90 1067.5 1792.4)">head width</text>
<text x="0.8" y="2091.5" font-size="33" font-weight="bold">I</text>
<text x="46.8" y="2148" font-size="26.5" style='font-family:"DejaVu Sans",sans-serif'>long</text>
<g clip-path="url(#sc1)"><g filter="url(#hot)"><path transform="translate(80.05 2229.8)" d="M-3.35 8 L-3.35 -17 C-3.35 -20 -5.35 -20 -5.35 -24 L-5.35 -31 Q-5.35 -33 -3.35 -33 L3.35 -33 Q5.35 -33 5.35 -31 L5.35 -24 C5.35 -20 3.35 -20 3.35 -17 L3.35 8 Z" fill="#000"/></g></g>
<g clip-path="url(#sc2)"><g filter="url(#hot)"><path transform="translate(117.53 2229.8)" d="M-4.25 8 L-4.25 -33 L4.25 -33 L4.25 8 Z" fill="#000"/></g></g>
<g clip-path="url(#sc3)"><g filter="url(#hot)"><path transform="translate(154.81 2229.8)" d="M-3.1 8 L-3.1 -27.6 C-3.1 -30.6 -3.8 -30.6 -3.8 -34.6 L-3.8 -41.6 Q-3.8 -43.6 -1.8 -43.6 L1.8 -43.6 Q3.8 -43.6 3.8 -41.6 L3.8 -34.6 C3.8 -30.6 3.1 -30.6 3.1 -27.6 L3.1 8 Z" fill="#000"/></g></g>
<g clip-path="url(#sc4)"><g filter="url(#hot)"><path transform="translate(193.09 2229.8)" d="M-3 8 L-3 -22 C-3 -25 -4.85 -25 -4.85 -29 L-4.85 -36 Q-4.85 -38 -2.85 -38 L2.85 -38 Q4.85 -38 4.85 -36 L4.85 -29 C4.85 -25 3 -25 3 -22 L3 8 Z" fill="#000"/></g></g>
<g clip-path="url(#sc6)"><g filter="url(#hot)"><path transform="translate(230.87 2229.8)" d="M-5.5 8 L-5.5 -25.3 L5.5 -25.3 L5.5 8 Z" fill="#000"/></g></g>
<g clip-path="url(#sc9)"><g filter="url(#hot)"><path transform="translate(268.15 2229.8)" d="M-3.35 8 L-3.35 -15.4 C-3.35 -18.4 -6.1 -18.4 -6.1 -22.4 L-6.1 -29.4 Q-6.1 -31.4 -4.1 -31.4 L4.1 -31.4 Q6.1 -31.4 6.1 -29.4 L6.1 -22.4 C6.1 -18.4 3.35 -18.4 3.35 -15.4 L3.35 8 Z" fill="#000"/></g></g>
<g clip-path="url(#sc11)"><g filter="url(#hot)"><path transform="translate(305.93 2229.8)" d="M-4.5 8 L-4.5 -29.2 L4.5 -29.2 L4.5 8 Z" fill="#000"/></g></g>
<g clip-path="url(#sc12)"><g filter="url(#hot)"><path transform="translate(343.71 2229.8)" d="M-5 8 L-5 -26.8 L5 -26.8 L5 8 Z" fill="#000"/></g></g>
<g clip-path="url(#sc15)"><g filter="url(#hot)"><path transform="translate(381.49 2229.8)" d="M-6.4 8 L-6.4 -22.8 L6.4 -22.8 L6.4 8 Z" fill="#000"/></g></g>
<rect x="63.4" y="2167.2" width="31.7" height="62.6" fill="none" stroke="#000" stroke-width="2.3"/>
<text x="79.25" y="2174.4" font-size="28" text-anchor="middle" style='font-family:"DejaVu Sans",sans-serif'>1</text>
<rect x="101.18" y="2167.2" width="31.7" height="62.6" fill="none" stroke="#000" stroke-width="2.3"/>
<text x="117.03" y="2174.4" font-size="28" text-anchor="middle" style='font-family:"DejaVu Sans",sans-serif'>2</text>
<rect x="138.96" y="2167.2" width="31.7" height="62.6" fill="none" stroke="#000" stroke-width="2.3"/>
<text x="154.81" y="2174.4" font-size="28" text-anchor="middle" style='font-family:"DejaVu Sans",sans-serif'>3</text>
<rect x="176.74" y="2167.2" width="31.7" height="62.6" fill="none" stroke="#000" stroke-width="2.3"/>
<text x="192.59" y="2174.4" font-size="28" text-anchor="middle" style='font-family:"DejaVu Sans",sans-serif'>4</text>
<rect x="214.52" y="2167.2" width="31.7" height="62.6" fill="none" stroke="#000" stroke-width="2.3"/>
<text x="230.37" y="2174.4" font-size="28" text-anchor="middle" style='font-family:"DejaVu Sans",sans-serif'>6</text>
<rect x="252.3" y="2167.2" width="31.7" height="62.6" fill="none" stroke="#000" stroke-width="2.3"/>
<text x="268.15" y="2174.4" font-size="28" text-anchor="middle" style='font-family:"DejaVu Sans",sans-serif'>9</text>
<rect x="290.08" y="2167.2" width="31.7" height="62.6" fill="none" stroke="#000" stroke-width="2.3"/>
<text x="305.93" y="2174.4" font-size="28" text-anchor="middle" style='font-family:"DejaVu Sans",sans-serif'>11</text>
<rect x="327.86" y="2167.2" width="31.7" height="62.6" fill="none" stroke="#000" stroke-width="2.3"/>
<text x="343.71" y="2174.4" font-size="28" text-anchor="middle" style='font-family:"DejaVu Sans",sans-serif'>12</text>
<rect x="365.64" y="2167.2" width="31.7" height="62.6" fill="none" stroke="#000" stroke-width="2.3"/>
<text x="381.49" y="2174.4" font-size="28" text-anchor="middle" style='font-family:"DejaVu Sans",sans-serif'>15</text>
<text x="46.8" y="2266.8" font-size="26.5" style='font-family:"DejaVu Sans",sans-serif'>stubby</text>
<g clip-path="url(#sc17)"><g filter="url(#hot)"><path transform="translate(79.25 2348.4)" d="M-6.85 8 L-6.85 -20.4 L6.85 -20.4 L6.85 8 Z" fill="#000"/></g></g>
<g clip-path="url(#sc18)"><g filter="url(#hot)"><path transform="translate(117.03 2348.4)" d="M-8.4 8 L-8.4 -18.3 L8.4 -18.3 L8.4 8 Z" fill="#000"/></g></g>
<g clip-path="url(#sc19)"><g filter="url(#hot)"><path transform="translate(154.81 2348.4)" d="M-8.4 8 L-8.4 -15.8 L8.4 -15.8 L8.4 8 Z" fill="#000"/></g></g>
<g clip-path="url(#sc23)"><g filter="url(#hot)"><path transform="translate(192.59 2348.4)" d="M-6.1 8 L-6.1 -18.3 L6.1 -18.3 L6.1 8 Z" fill="#000"/></g></g>
<g clip-path="url(#sc24)"><g filter="url(#hot)"><path transform="translate(230.37 2348.4)" d="M-7.5 8 L-6 -17.4 Q0 -20.4 6 -17.4 L7.5 8 Z" fill="#000"/></g></g>
<g clip-path="url(#sc25)"><g filter="url(#hot)"><path transform="translate(268.15 2348.4)" d="M-9.9 8 L-9.9 -13.4 L9.9 -13.4 L9.9 8 Z" fill="#000"/></g></g>
<g clip-path="url(#sc26)"><g filter="url(#hot)"><path transform="translate(305.93 2348.4)" d="M-9.15 8 L-9.15 -13.4 L9.15 -13.4 L9.15 8 Z" fill="#000"/></g></g>
<g clip-path="url(#sc27)"><g filter="url(#hot)"><path transform="translate(343.71 2348.4)" d="M-8.4 8 L-8.4 -15.8 L8.4 -15.8 L8.4 8 Z" fill="#000"/></g></g>
<g clip-path="url(#sc28)"><g filter="url(#hot)"><path transform="translate(381.49 2348.4)" d="M-9.5 8 L-4 -15.9 Q0 -18.9 4 -15.9 L9.5 8 Z" fill="#000"/></g></g>
<g clip-path="url(#sc29)"><g filter="url(#hot)"><path transform="translate(419.27 2348.4)" d="M-9.5 8 L-9.5 -7.11 Q-9.5 -15.8 0 -15.8 Q9.5 -15.8 9.5 -7.11 L9.5 8 Z" fill="#000"/></g></g>
<g clip-path="url(#sc30)"><g filter="url(#hot)"><path transform="translate(453.05 2348.4)" d="M-18 8 L-18 -6 L18 -6 L18 8 Z" fill="#000"/></g></g>
<g clip-path="url(#sc31)"><g filter="url(#hot)"><path transform="translate(490.83 2348.4)" d="M-17 8 L-17 -8.5 L17 -8.5 L17 8 Z" fill="#000"/></g></g>
<g clip-path="url(#sc32)"><g filter="url(#hot)"><path transform="translate(527.61 2348.4)" d="M-17 8 L-17 -8.5 L17 -8.5 L17 8 Z" fill="#000"/></g></g>
<g clip-path="url(#sc33)"><g filter="url(#hot)"><path transform="translate(564.39 2348.4)" d="M-17 8 L-17 -11 L17 -11 L17 8 Z" fill="#000"/></g></g>
<g clip-path="url(#sc34)"><g filter="url(#hot)"><path transform="translate(608.17 2348.4)" d="M-13.5 8 L-13.5 -5.85 Q-13.5 -13 0 -13 Q13.5 -13 13.5 -5.85 L13.5 8 Z" fill="#000"/></g></g>
<g clip-path="url(#sc35)"><g filter="url(#hot)"><path transform="translate(641.95 2348.4)" d="M-17 8 L-17 -11 L17 -11 L17 8 Z" fill="#000"/></g></g>
<g clip-path="url(#sc36)"><g filter="url(#hot)"><path transform="translate(677.73 2348.4)" d="M-17 8 L-17 -11 L17 -11 L17 8 Z" fill="#000"/></g></g>
<rect x="63.4" y="2285.8" width="31.7" height="62.6" fill="none" stroke="#000" stroke-width="2.3"/>
<text x="79.25" y="2292.6" font-size="28" text-anchor="middle" style='font-family:"DejaVu Sans",sans-serif'>17</text>
<rect x="101.18" y="2285.8" width="31.7" height="62.6" fill="none" stroke="#000" stroke-width="2.3"/>
<text x="117.03" y="2292.6" font-size="28" text-anchor="middle" style='font-family:"DejaVu Sans",sans-serif'>18</text>
<rect x="138.96" y="2285.8" width="31.7" height="62.6" fill="none" stroke="#000" stroke-width="2.3"/>
<text x="154.81" y="2292.6" font-size="28" text-anchor="middle" style='font-family:"DejaVu Sans",sans-serif'>19</text>
<rect x="176.74" y="2285.8" width="31.7" height="62.6" fill="none" stroke="#000" stroke-width="2.3"/>
<text x="192.59" y="2292.6" font-size="28" text-anchor="middle" style='font-family:"DejaVu Sans",sans-serif'>23</text>
<rect x="214.52" y="2285.8" width="31.7" height="62.6" fill="none" stroke="#000" stroke-width="2.3"/>
<text x="230.37" y="2292.6" font-size="28" text-anchor="middle" style='font-family:"DejaVu Sans",sans-serif'>24</text>
<rect x="252.3" y="2285.8" width="31.7" height="62.6" fill="none" stroke="#000" stroke-width="2.3"/>
<text x="268.15" y="2292.6" font-size="28" text-anchor="middle" style='font-family:"DejaVu Sans",sans-serif'>25</text>
<rect x="290.08" y="2285.8" width="31.7" height="62.6" fill="none" stroke="#000" stroke-width="2.3"/>
<text x="305.93" y="2292.6" font-size="28" text-anchor="middle" style='font-family:"DejaVu Sans",sans-serif'>26</text>
<rect x="327.86" y="2285.8" width="31.7" height="62.6" fill="none" stroke="#000" stroke-width="2.3"/>
<text x="343.71" y="2292.6" font-size="28" text-anchor="middle" style='font-family:"DejaVu Sans",sans-serif'>27</text>
<rect x="365.64" y="2285.8" width="31.7" height="62.6" fill="none" stroke="#000" stroke-width="2.3"/>
<text x="381.49" y="2292.6" font-size="28" text-anchor="middle" style='font-family:"DejaVu Sans",sans-serif'>28</text>
<rect x="403.42" y="2285.8" width="31.7" height="62.6" fill="none" stroke="#000" stroke-width="2.3"/>
<text x="419.27" y="2292.6" font-size="28" text-anchor="middle" style='font-family:"DejaVu Sans",sans-serif'>29</text>
<rect x="441.2" y="2285.8" width="31.7" height="62.6" fill="none" stroke="#000" stroke-width="2.3"/>
<text x="457.05" y="2292.6" font-size="28" text-anchor="middle" style='font-family:"DejaVu Sans",sans-serif'>30</text>
<rect x="478.98" y="2285.8" width="31.7" height="62.6" fill="none" stroke="#000" stroke-width="2.3"/>
<text x="494.83" y="2292.6" font-size="28" text-anchor="middle" style='font-family:"DejaVu Sans",sans-serif'>31</text>
<rect x="516.76" y="2285.8" width="31.7" height="62.6" fill="none" stroke="#000" stroke-width="2.3"/>
<text x="532.61" y="2292.6" font-size="28" text-anchor="middle" style='font-family:"DejaVu Sans",sans-serif'>32</text>
<rect x="554.54" y="2285.8" width="31.7" height="62.6" fill="none" stroke="#000" stroke-width="2.3"/>
<text x="570.39" y="2292.6" font-size="28" text-anchor="middle" style='font-family:"DejaVu Sans",sans-serif'>33</text>
<rect x="592.32" y="2285.8" width="31.7" height="62.6" fill="none" stroke="#000" stroke-width="2.3"/>
<text x="608.17" y="2292.6" font-size="28" text-anchor="middle" style='font-family:"DejaVu Sans",sans-serif'>34</text>
<rect x="630.1" y="2285.8" width="31.7" height="62.6" fill="none" stroke="#000" stroke-width="2.3"/>
<text x="645.95" y="2292.6" font-size="28" text-anchor="middle" style='font-family:"DejaVu Sans",sans-serif'>35</text>
<rect x="667.88" y="2285.8" width="31.7" height="62.6" fill="none" stroke="#000" stroke-width="2.3"/>
<text x="683.73" y="2292.6" font-size="28" text-anchor="middle" style='font-family:"DejaVu Sans",sans-serif'>36</text>
<text x="46.4" y="2386.2" font-size="26.5" style='font-family:"DejaVu Sans",sans-serif'>mushroom</text>
<g clip-path="url(#sc5)"><g filter="url(#hot)"><path transform="translate(79.25 2468.2)" d="M-3.75 8 L-3.75 -10.53 C-3.75 -13.53 -6.5 -13.53 -6.5 -17.53 L-6.5 -22.6 Q-6.5 -24.6 -4.5 -24.6 L4.5 -24.6 Q6.5 -24.6 6.5 -22.6 L6.5 -17.53 C6.5 -13.53 3.75 -13.53 3.75 -10.53 L3.75 8 Z" fill="#000"/></g></g>
<g clip-path="url(#sc7)"><g filter="url(#hot)"><path transform="translate(117.03 2468.2)" d="M-5.5 8 L-5.5 -22.3 L5.5 -22.3 L5.5 8 Z" fill="#000"/></g></g>
<g clip-path="url(#sc8)"><g filter="url(#hot)"><path transform="translate(154.81 2468.2)" d="M-4 8 L-4 -10.53 C-4 -13.53 -6.9 -13.53 -6.9 -17.53 L-6.9 -22.6 Q-6.9 -24.6 -4.9 -24.6 L4.9 -24.6 Q6.9 -24.6 6.9 -22.6 L6.9 -17.53 C6.9 -13.53 4 -13.53 4 -10.53 L4 8 Z" fill="#000"/></g></g>
<g clip-path="url(#sc10)"><g filter="url(#hot)"><path transform="translate(192.59 2468.2)" d="M-3.5 8 L-3.5 -12.29 C-3.5 -15.29 -6.2 -15.29 -6.2 -19.29 L-6.2 -25.8 Q-6.2 -27.8 -4.2 -27.8 L4.2 -27.8 Q6.2 -27.8 6.2 -25.8 L6.2 -19.29 C6.2 -15.29 3.5 -15.29 3.5 -12.29 L3.5 8 Z" fill="#000"/></g></g>
<g clip-path="url(#sc13)"><g filter="url(#hot)"><path transform="translate(230.37 2468.2)" d="M-4 8 L-4 -9.27 C-4 -12.27 -7.35 -12.27 -7.35 -16.27 L-7.35 -20.3 Q-7.35 -22.3 -5.35 -22.3 L5.35 -22.3 Q7.35 -22.3 7.35 -20.3 L7.35 -16.27 C7.35 -12.27 4 -12.27 4 -9.27 L4 8 Z" fill="#000"/></g></g>
<g clip-path="url(#sc14)"><g filter="url(#hot)"><path transform="translate(268.15 2468.2)" d="M-6.25 8 L-6.25 -5.88 Q-6.25 -11.76 -9 -13.72 L-9 -19.6 L9 -19.6 L9 -13.72 Q6.25 -11.76 6.25 -5.88 L6.25 8 Z" fill="#000"/></g></g>
<g clip-path="url(#sc16)"><g filter="url(#hot)"><path transform="translate(305.93 2468.2)" d="M-7.5 8 L-7.5 -9.59 Q-7.5 -21.3 0 -21.3 Q7.5 -21.3 7.5 -9.59 L7.5 8 Z" fill="#000"/></g></g>
<g clip-path="url(#sc20)"><g filter="url(#hot)"><path transform="translate(343.71 2468.2)" d="M-4.5 8 L-4.5 -8.17 C-4.5 -11.17 -8.2 -11.17 -8.2 -15.17 L-8.2 -18.3 Q-8.2 -20.3 -6.2 -20.3 L6.2 -20.3 Q8.2 -20.3 8.2 -18.3 L8.2 -15.17 C8.2 -11.17 4.5 -11.17 4.5 -8.17 L4.5 8 Z" fill="#000"/></g></g>
<g clip-path="url(#sc21)"><g filter="url(#hot)"><path transform="translate(381.49 2468.2)" d="M-8.2 8 L-8.2 -17.4 L8.2 -17.4 L8.2 8 Z" fill="#000"/></g></g>
<g clip-path="url(#sc22)"><g filter="url(#hot)"><path transform="translate(419.27 2468.2)" d="M-6 8 L-6 -5.22 Q-6 -10.44 -9.5 -12.18 L-9.5 -17.4 L9.5 -17.4 L9.5 -12.18 Q6 -10.44 6 -5.22 L6 8 Z" fill="#000"/></g></g>
<rect x="63.4" y="2405.6" width="31.7" height="62.6" fill="none" stroke="#000" stroke-width="2.3"/>
<text x="79.25" y="2412.4" font-size="28" text-anchor="middle" style='font-family:"DejaVu Sans",sans-serif'>5</text>
<rect x="101.18" y="2405.6" width="31.7" height="62.6" fill="none" stroke="#000" stroke-width="2.3"/>
<text x="117.03" y="2412.4" font-size="28" text-anchor="middle" style='font-family:"DejaVu Sans",sans-serif'>7</text>
<rect x="138.96" y="2405.6" width="31.7" height="62.6" fill="none" stroke="#000" stroke-width="2.3"/>
<text x="154.81" y="2412.4" font-size="28" text-anchor="middle" style='font-family:"DejaVu Sans",sans-serif'>8</text>
<rect x="176.74" y="2405.6" width="31.7" height="62.6" fill="none" stroke="#000" stroke-width="2.3"/>
<text x="192.59" y="2412.4" font-size="28" text-anchor="middle" style='font-family:"DejaVu Sans",sans-serif'>10</text>
<rect x="214.52" y="2405.6" width="31.7" height="62.6" fill="none" stroke="#000" stroke-width="2.3"/>
<text x="230.37" y="2412.4" font-size="28" text-anchor="middle" style='font-family:"DejaVu Sans",sans-serif'>13</text>
<rect x="252.3" y="2405.6" width="31.7" height="62.6" fill="none" stroke="#000" stroke-width="2.3"/>
<text x="268.15" y="2412.4" font-size="28" text-anchor="middle" style='font-family:"DejaVu Sans",sans-serif'>14</text>
<rect x="290.08" y="2405.6" width="31.7" height="62.6" fill="none" stroke="#000" stroke-width="2.3"/>
<text x="305.93" y="2412.4" font-size="28" text-anchor="middle" style='font-family:"DejaVu Sans",sans-serif'>16</text>
<rect x="327.86" y="2405.6" width="31.7" height="62.6" fill="none" stroke="#000" stroke-width="2.3"/>
<text x="343.71" y="2412.4" font-size="28" text-anchor="middle" style='font-family:"DejaVu Sans",sans-serif'>20</text>
<rect x="365.64" y="2405.6" width="31.7" height="62.6" fill="none" stroke="#000" stroke-width="2.3"/>
<text x="381.49" y="2412.4" font-size="28" text-anchor="middle" style='font-family:"DejaVu Sans",sans-serif'>21</text>
<rect x="403.42" y="2405.6" width="31.7" height="62.6" fill="none" stroke="#000" stroke-width="2.3"/>
<text x="419.27" y="2412.4" font-size="28" text-anchor="middle" style='font-family:"DejaVu Sans",sans-serif'>22</text>
<text x="821.7" y="2091.3" font-size="33" font-weight="bold">J</text>
<line x1="893.8" y1="2106" x2="893.8" y2="2452.1" stroke="#000" stroke-width="2"/>
<line x1="886.2" y1="2451.1" x2="1101" y2="2451.1" stroke="#000" stroke-width="2"/>
<line x1="886.2" y1="2451.1" x2="893.8" y2="2451.1" stroke="#000" stroke-width="2"/>
<text x="883" y="2458.9" font-size="24.5" text-anchor="end">0</text>
<line x1="886.2" y1="2294.8" x2="893.8" y2="2294.8" stroke="#000" stroke-width="2"/>
<text x="883" y="2302.6" font-size="24.5" text-anchor="end">50</text>
<line x1="886.2" y1="2138.5" x2="893.8" y2="2138.5" stroke="#000" stroke-width="2"/>
<text x="883" y="2146.3" font-size="24.5" text-anchor="end">100</text>
<text transform="translate(838.3 2277.5) rotate(-90) scale(1.085 1)" text-anchor="middle" font-size="29.8">spine type [%]</text>
<rect x="925.7" y="2377.01" width="58.5" height="74.09" fill="#008000" stroke="#000" stroke-width="2.5"/>
<rect x="925.7" y="2254.47" width="58.5" height="122.54" fill="#80c080" stroke="#000" stroke-width="2.5"/>
<rect x="925.7" y="2139.13" width="58.5" height="115.35" fill="#d9ecd9" stroke="#000" stroke-width="2.5"/>
<rect x="1017.4" y="2373.26" width="59" height="77.84" fill="#740896" stroke="#000" stroke-width="2.5"/>
<rect x="1017.4" y="2217.28" width="59" height="155.99" fill="#ba84cb" stroke="#000" stroke-width="2.5"/>
<rect x="1017.4" y="2139.13" width="59" height="78.15" fill="#ead9f0" stroke="#000" stroke-width="2.5"/>
<line x1="985.2" y1="2377.01" x2="1016.4" y2="2373.26" stroke="#000" stroke-width="1.8"/>
<line x1="985.2" y1="2254.47" x2="1016.4" y2="2217.28" stroke="#000" stroke-width="1.8"/>
<line x1="985.2" y1="2139.13" x2="1016.4" y2="2139.13" stroke="#000" stroke-width="1.8"/>
<line x1="955.1" y1="2131.13" x2="955.1" y2="2147.13" stroke="#000" stroke-width="2.4"/>
<line x1="955.1" y1="2244.97" x2="955.1" y2="2263.97" stroke="#000" stroke-width="2.4"/>
<line x1="955.1" y1="2369.01" x2="955.1" y2="2385.01" stroke="#000" stroke-width="2.4"/>
<line x1="1046.9" y1="2132.63" x2="1046.9" y2="2145.63" stroke="#000" stroke-width="2.4"/>
<line x1="1046.9" y1="2203.28" x2="1046.9" y2="2231.28" stroke="#000" stroke-width="2.4"/>
<line x1="1046.9" y1="2365.26" x2="1046.9" y2="2381.26" stroke="#000" stroke-width="2.4"/>
<text x="1000.4" y="2207.5" font-size="44" text-anchor="middle" font-weight="bold">*</text>
<text x="1084.4" y="2185.2" font-size="28.7">long</text>
<text x="1084.4" y="2300.6" font-size="28.7">stubby</text>
<text x="1084.4" y="2421.6" font-size="28.7">mushroom</text>
<text x="930.3" y="2489.6" font-size="31.5">WT</text>
<text x="1000.4" y="2490.2" font-size="31.7"><tspan font-style="italic">Mmp9</tspan> UTRmut</text>
</svg>
</body></html>
